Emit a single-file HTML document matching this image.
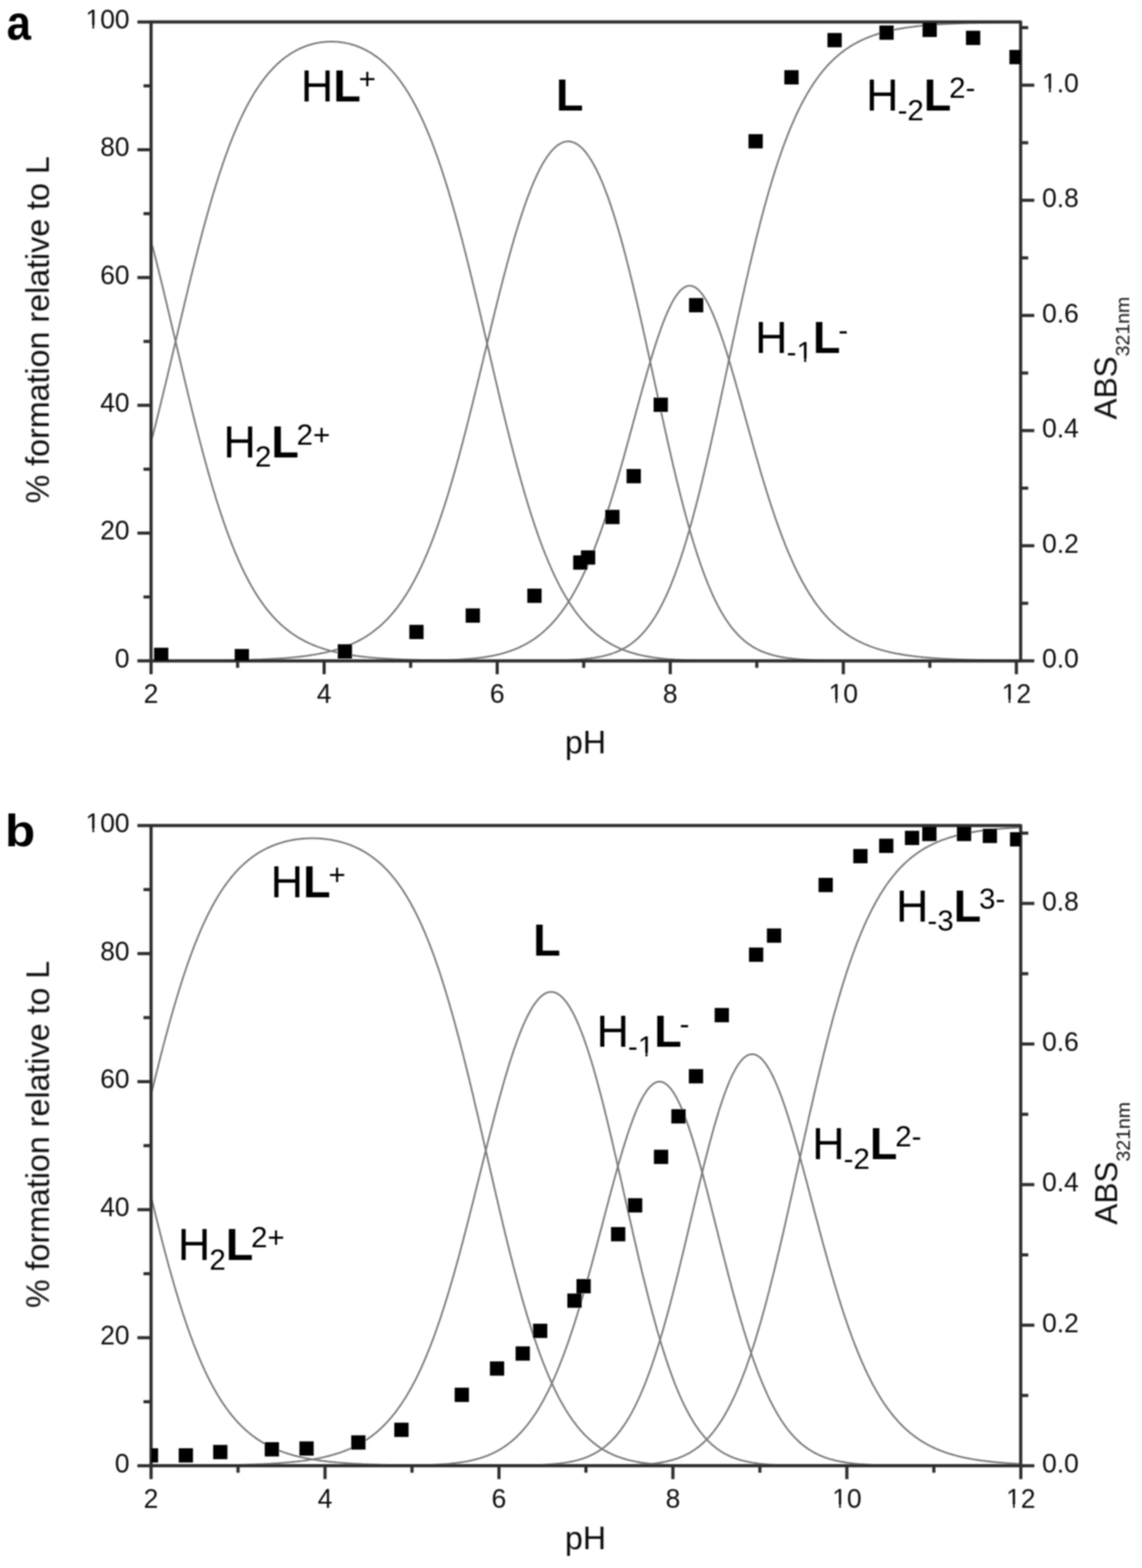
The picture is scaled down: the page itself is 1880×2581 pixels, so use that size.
<!DOCTYPE html>
<html><head><meta charset="utf-8"><style>html,body{margin:0;padding:0;background:#fff;}svg{display:block;}</style></head><body>
<svg width="1880" height="2581" viewBox="0 0 1880 2581" font-family='"Liberation Sans", Arial, sans-serif'>
<rect width="1880" height="2581" fill="#fff"/>
<filter id="soft" x="0" y="0" width="1880" height="2581" filterUnits="userSpaceOnUse"><feGaussianBlur stdDeviation="1.0"/></filter>
<g filter="url(#soft)">
<defs><clipPath id="ca"><rect x="248.7" y="36.2" width="1431.5" height="1051.6"/></clipPath>
<clipPath id="cb"><rect x="248.7" y="1358.9" width="1431.6" height="1053.8"/></clipPath></defs>
<polyline points="250.6,403.7 253.4,414.7 256.3,426.0 259.1,437.3 262.0,448.8 264.8,460.4 267.7,472.1 270.5,483.9 273.4,495.8 276.2,507.8 279.1,519.8 281.9,531.8 284.8,543.9 287.6,556.0 290.5,568.1 293.3,580.2 296.2,592.3 299.0,604.4 301.9,616.4 304.7,628.3 307.6,640.2 310.4,652.0 313.3,663.7 316.1,675.3 319.0,686.8 321.8,698.2 324.7,709.4 327.5,720.5 330.4,731.4 333.2,742.2 336.1,752.8 338.9,763.2 341.8,773.5 344.6,783.5 347.5,793.4 350.3,803.1 353.2,812.5 356.0,821.8 358.9,830.9 361.7,839.7 364.6,848.3 367.4,856.7 370.3,864.9 373.1,872.9 376.0,880.7 378.8,888.3 381.7,895.6 384.5,902.8 387.4,909.7 390.2,916.4 393.0,922.9 395.9,929.2 398.7,935.3 401.6,941.2 404.4,947.0 407.3,952.5 410.1,957.8 413.0,963.0 415.8,968.0 418.7,972.8 421.5,977.4 424.4,981.9 427.2,986.2 430.1,990.4 432.9,994.4 435.8,998.3 438.6,1002.0 441.5,1005.5 444.3,1009.0 447.2,1012.3 450.0,1015.5 452.9,1018.5 455.7,1021.4 458.6,1024.3 461.4,1027.0 464.3,1029.6 467.1,1032.0 470.0,1034.4 472.8,1036.7 475.7,1038.9 478.5,1041.1 481.4,1043.1 484.2,1045.0 487.1,1046.9 489.9,1048.7 492.8,1050.4 495.6,1052.0 498.5,1053.6 501.3,1055.1 504.2,1056.5 507.0,1057.9 509.9,1059.2 512.7,1060.5 515.6,1061.7 518.4,1062.9 521.3,1064.0 524.1,1065.0 527.0,1066.0 529.8,1067.0 532.7,1067.9 535.5,1068.8 538.3,1069.7 541.2,1070.5 544.0,1071.3 546.9,1072.0 549.7,1072.7 552.6,1073.4 555.4,1074.1 558.3,1074.7 561.1,1075.3 564.0,1075.8 566.8,1076.4 569.7,1076.9 572.5,1077.4 575.4,1077.9 578.2,1078.3 581.1,1078.8 583.9,1079.2 586.8,1079.6 589.6,1080.0 592.5,1080.3 595.3,1080.7 598.2,1081.0 601.0,1081.3 603.9,1081.6 606.7,1081.9 609.6,1082.2 612.4,1082.4 615.3,1082.7 618.1,1082.9 621.0,1083.2 623.8,1083.4 626.7,1083.6 629.5,1083.8 632.4,1084.0 635.2,1084.2 638.1,1084.3 640.9,1084.5 643.8,1084.7 646.6,1084.8 649.5,1084.9 652.3,1085.1 655.2,1085.2 658.0,1085.3 660.9,1085.5 663.7,1085.6 666.6,1085.7 669.4,1085.8 672.3,1085.9 675.1,1086.0 677.9,1086.1 680.8,1086.2 683.6,1086.2 686.5,1086.3 689.3,1086.4 692.2,1086.5 695.0,1086.5 697.9,1086.6 700.7,1086.7 703.6,1086.7 706.4,1086.8 709.3,1086.8 712.1,1086.9 715.0,1086.9 717.8,1087.0 720.7,1087.0 723.5,1087.1 726.4,1087.1 729.2,1087.1 732.1,1087.2 734.9,1087.2 737.8,1087.3 740.6,1087.3 743.5,1087.3 746.3,1087.3 749.2,1087.4 752.0,1087.4 754.9,1087.4 757.7,1087.4 760.6,1087.5 763.4,1087.5 766.3,1087.5 769.1,1087.5 772.0,1087.5 774.8,1087.6 777.7,1087.6 780.5,1087.6 783.4,1087.6 786.2,1087.6 789.1,1087.6 791.9,1087.6 794.8,1087.6 797.6,1087.7 800.5,1087.7 803.3,1087.7 806.2,1087.7 809.0,1087.7 811.9,1087.7 814.7,1087.7 817.6,1087.7 820.4,1087.7 823.2,1087.7 826.1,1087.7 828.9,1087.7 831.8,1087.7 834.6,1087.7 837.5,1087.7 840.3,1087.8 843.2,1087.8 846.0,1087.8 848.9,1087.8 851.7,1087.8 854.6,1087.8 857.4,1087.8 860.3,1087.8 863.1,1087.8 866.0,1087.8 868.8,1087.8 871.7,1087.8 874.5,1087.8 877.4,1087.8 880.2,1087.8 883.1,1087.8 885.9,1087.8 888.8,1087.8 891.6,1087.8 894.5,1087.8 897.3,1087.8 900.2,1087.8 903.0,1087.8 905.9,1087.8 908.7,1087.8 911.6,1087.8 914.4,1087.8 917.3,1087.8 920.1,1087.8 923.0,1087.8 925.8,1087.8 928.7,1087.8 931.5,1087.8 934.4,1087.8 937.2,1087.8 940.1,1087.8 942.9,1087.8 945.8,1087.8 948.6,1087.8 951.5,1087.8 954.3,1087.8 957.2,1087.8 960.0,1087.8 962.9,1087.8 965.7,1087.8 968.5,1087.8 971.4,1087.8 974.2,1087.8 977.1,1087.8 979.9,1087.8 982.8,1087.8 985.6,1087.8 988.5,1087.8 991.3,1087.8 994.2,1087.8 997.0,1087.8 999.9,1087.8 1002.7,1087.8 1005.6,1087.8 1008.4,1087.8 1011.3,1087.8 1014.1,1087.8 1017.0,1087.8 1019.8,1087.8 1022.7,1087.8 1025.5,1087.8 1028.4,1087.8 1031.2,1087.8 1034.1,1087.8 1036.9,1087.8 1039.8,1087.8 1042.6,1087.8 1045.5,1087.8 1048.3,1087.8 1051.2,1087.8 1054.0,1087.8 1056.9,1087.8 1059.7,1087.8 1062.6,1087.8 1065.4,1087.8 1068.3,1087.8 1071.1,1087.8 1074.0,1087.8 1076.8,1087.8 1079.7,1087.8 1082.5,1087.8 1085.4,1087.8 1088.2,1087.8 1091.1,1087.8 1093.9,1087.8 1096.8,1087.8 1099.6,1087.8 1102.5,1087.8 1105.3,1087.8 1108.1,1087.8 1111.0,1087.8 1113.8,1087.8 1116.7,1087.8 1119.5,1087.8 1122.4,1087.8 1125.2,1087.8 1128.1,1087.8 1130.9,1087.8 1133.8,1087.8 1136.6,1087.8 1139.5,1087.8 1142.3,1087.8 1145.2,1087.8 1148.0,1087.8 1150.9,1087.8 1153.7,1087.8 1156.6,1087.8 1159.4,1087.8 1162.3,1087.8 1165.1,1087.8 1168.0,1087.8 1170.8,1087.8 1173.7,1087.8 1176.5,1087.8 1179.4,1087.8 1182.2,1087.8 1185.1,1087.8 1187.9,1087.8 1190.8,1087.8 1193.6,1087.8 1196.5,1087.8 1199.3,1087.8 1202.2,1087.8 1205.0,1087.8 1207.9,1087.8 1210.7,1087.8 1213.6,1087.8 1216.4,1087.8 1219.3,1087.8 1222.1,1087.8 1225.0,1087.8 1227.8,1087.8 1230.7,1087.8 1233.5,1087.8 1236.4,1087.8 1239.2,1087.8 1242.1,1087.8 1244.9,1087.8 1247.8,1087.8 1250.6,1087.8 1253.4,1087.8 1256.3,1087.8 1259.1,1087.8 1262.0,1087.8 1264.8,1087.8 1267.7,1087.8 1270.5,1087.8 1273.4,1087.8 1276.2,1087.8 1279.1,1087.8 1281.9,1087.8 1284.8,1087.8 1287.6,1087.8 1290.5,1087.8 1293.3,1087.8 1296.2,1087.8 1299.0,1087.8 1301.9,1087.8 1304.7,1087.8 1307.6,1087.8 1310.4,1087.8 1313.3,1087.8 1316.1,1087.8 1319.0,1087.8 1321.8,1087.8 1324.7,1087.8 1327.5,1087.8 1330.4,1087.8 1333.2,1087.8 1336.1,1087.8 1338.9,1087.8 1341.8,1087.8 1344.6,1087.8 1347.5,1087.8 1350.3,1087.8 1353.2,1087.8 1356.0,1087.8 1358.9,1087.8 1361.7,1087.8 1364.6,1087.8 1367.4,1087.8 1370.3,1087.8 1373.1,1087.8 1376.0,1087.8 1378.8,1087.8 1381.7,1087.8 1384.5,1087.8 1387.4,1087.8 1390.2,1087.8 1393.0,1087.8 1395.9,1087.8 1398.7,1087.8 1401.6,1087.8 1404.4,1087.8 1407.3,1087.8 1410.1,1087.8 1413.0,1087.8 1415.8,1087.8 1418.7,1087.8 1421.5,1087.8 1424.4,1087.8 1427.2,1087.8 1430.1,1087.8 1432.9,1087.8 1435.8,1087.8 1438.6,1087.8 1441.5,1087.8 1444.3,1087.8 1447.2,1087.8 1450.0,1087.8 1452.9,1087.8 1455.7,1087.8 1458.6,1087.8 1461.4,1087.8 1464.3,1087.8 1467.1,1087.8 1470.0,1087.8 1472.8,1087.8 1475.7,1087.8 1478.5,1087.8 1481.4,1087.8 1484.2,1087.8 1487.1,1087.8 1489.9,1087.8 1492.8,1087.8 1495.6,1087.8 1498.5,1087.8 1501.3,1087.8 1504.2,1087.8 1507.0,1087.8 1509.9,1087.8 1512.7,1087.8 1515.6,1087.8 1518.4,1087.8 1521.3,1087.8 1524.1,1087.8 1527.0,1087.8 1529.8,1087.8 1532.7,1087.8 1535.5,1087.8 1538.3,1087.8 1541.2,1087.8 1544.0,1087.8 1546.9,1087.8 1549.7,1087.8 1552.6,1087.8 1555.4,1087.8 1558.3,1087.8 1561.1,1087.8 1564.0,1087.8 1566.8,1087.8 1569.7,1087.8 1572.5,1087.8 1575.4,1087.8 1578.2,1087.8 1581.1,1087.8 1583.9,1087.8 1586.8,1087.8 1589.6,1087.8 1592.5,1087.8 1595.3,1087.8 1598.2,1087.8 1601.0,1087.8 1603.9,1087.8 1606.7,1087.8 1609.6,1087.8 1612.4,1087.8 1615.3,1087.8 1618.1,1087.8 1621.0,1087.8 1623.8,1087.8 1626.7,1087.8 1629.5,1087.8 1632.4,1087.8 1635.2,1087.8 1638.1,1087.8 1640.9,1087.8 1643.8,1087.8 1646.6,1087.8 1649.5,1087.8 1652.3,1087.8 1655.2,1087.8 1658.0,1087.8 1660.9,1087.8 1663.7,1087.8 1666.6,1087.8 1669.4,1087.8 1672.3,1087.8 1675.1,1087.8" fill="none" stroke="#7a7a7a" stroke-width="2.9" stroke-linejoin="round" clip-path="url(#ca)"/>
<polyline points="250.6,720.4 253.4,709.3 256.3,698.1 259.1,686.7 262.0,675.2 264.8,663.6 267.7,651.9 270.5,640.1 273.4,628.3 276.2,616.3 279.1,604.3 281.9,592.3 284.8,580.2 287.6,568.1 290.5,556.0 293.3,543.9 296.2,531.8 299.0,519.8 301.9,507.8 304.7,495.9 307.6,484.0 310.4,472.2 313.3,460.5 316.1,448.9 319.0,437.5 321.8,426.1 324.7,414.9 327.5,403.8 330.4,392.9 333.2,382.2 336.1,371.6 338.9,361.2 341.8,351.0 344.6,340.9 347.5,331.1 350.3,321.4 353.2,312.0 356.0,302.8 358.9,293.8 361.7,285.0 364.6,276.4 367.4,268.0 370.3,259.8 373.1,251.9 376.0,244.2 378.8,236.6 381.7,229.3 384.5,222.3 387.4,215.4 390.2,208.7 393.0,202.3 395.9,196.0 398.7,190.0 401.6,184.2 404.4,178.5 407.3,173.1 410.1,167.8 413.0,162.7 415.8,157.8 418.7,153.1 421.5,148.6 424.4,144.2 427.2,140.0 430.1,135.9 432.9,132.1 435.8,128.3 438.6,124.7 441.5,121.3 444.3,118.0 447.2,114.9 450.0,111.9 452.9,109.0 455.7,106.2 458.6,103.6 461.4,101.1 464.3,98.7 467.1,96.4 470.0,94.2 472.8,92.1 475.7,90.2 478.5,88.3 481.4,86.6 484.2,84.9 487.1,83.3 489.9,81.8 492.8,80.4 495.6,79.1 498.5,77.9 501.3,76.8 504.2,75.7 507.0,74.7 509.9,73.8 512.7,73.0 515.6,72.2 518.4,71.5 521.3,70.9 524.1,70.4 527.0,69.9 529.8,69.5 532.7,69.2 535.5,68.9 538.3,68.7 541.2,68.6 544.0,68.5 546.9,68.5 549.7,68.6 552.6,68.7 555.4,68.9 558.3,69.2 561.1,69.5 564.0,69.9 566.8,70.4 569.7,70.9 572.5,71.6 575.4,72.2 578.2,73.0 581.1,73.8 583.9,74.7 586.8,75.7 589.6,76.8 592.5,77.9 595.3,79.1 598.2,80.5 601.0,81.9 603.9,83.3 606.7,84.9 609.6,86.6 612.4,88.3 615.3,90.2 618.1,92.2 621.0,94.2 623.8,96.4 626.7,98.7 629.5,101.1 632.4,103.6 635.2,106.3 638.1,109.0 640.9,111.9 643.8,114.9 646.6,118.1 649.5,121.4 652.3,124.8 655.2,128.4 658.0,132.2 660.9,136.1 663.7,140.1 666.6,144.3 669.4,148.7 672.3,153.3 675.1,158.0 677.9,162.9 680.8,168.0 683.6,173.3 686.5,178.8 689.3,184.4 692.2,190.3 695.0,196.4 697.9,202.6 700.7,209.1 703.6,215.8 706.4,222.7 709.3,229.8 712.1,237.1 715.0,244.7 717.8,252.5 720.7,260.4 723.5,268.6 726.4,277.1 729.2,285.7 732.1,294.6 734.9,303.7 737.8,312.9 740.6,322.4 743.5,332.2 746.3,342.1 749.2,352.2 752.0,362.5 754.9,373.0 757.7,383.6 760.6,394.5 763.4,405.5 766.3,416.7 769.1,428.0 772.0,439.4 774.8,451.0 777.7,462.7 780.5,474.6 783.4,486.5 786.2,498.5 789.1,510.6 791.9,522.7 794.8,534.9 797.6,547.1 800.5,559.3 803.3,571.6 806.2,583.9 809.0,596.1 811.9,608.3 814.7,620.5 817.6,632.6 820.4,644.6 823.2,656.6 826.1,668.5 828.9,680.3 831.8,691.9 834.6,703.5 837.5,714.9 840.3,726.1 843.2,737.2 846.0,748.2 848.9,759.0 851.7,769.6 854.6,780.0 857.4,790.2 860.3,800.2 863.1,810.1 866.0,819.7 868.8,829.1 871.7,838.3 874.5,847.3 877.4,856.1 880.2,864.7 883.1,873.0 885.9,881.2 888.8,889.1 891.6,896.8 894.5,904.2 897.3,911.5 900.2,918.5 903.0,925.4 905.9,932.0 908.7,938.4 911.6,944.6 914.4,950.6 917.3,956.4 920.1,962.1 923.0,967.5 925.8,972.7 928.7,977.8 931.5,982.6 934.4,987.3 937.2,991.9 940.1,996.2 942.9,1000.4 945.8,1004.5 948.6,1008.4 951.5,1012.1 954.3,1015.7 957.2,1019.1 960.0,1022.4 962.9,1025.6 965.7,1028.7 968.5,1031.6 971.4,1034.4 974.2,1037.1 977.1,1039.7 979.9,1042.1 982.8,1044.5 985.6,1046.7 988.5,1048.9 991.3,1051.0 994.2,1052.9 997.0,1054.8 999.9,1056.6 1002.7,1058.3 1005.6,1060.0 1008.4,1061.5 1011.3,1063.0 1014.1,1064.4 1017.0,1065.8 1019.8,1067.0 1022.7,1068.3 1025.5,1069.4 1028.4,1070.5 1031.2,1071.6 1034.1,1072.6 1036.9,1073.5 1039.8,1074.4 1042.6,1075.2 1045.5,1076.0 1048.3,1076.8 1051.2,1077.5 1054.0,1078.2 1056.9,1078.8 1059.7,1079.4 1062.6,1080.0 1065.4,1080.5 1068.3,1081.0 1071.1,1081.5 1074.0,1081.9 1076.8,1082.4 1079.7,1082.8 1082.5,1083.1 1085.4,1083.5 1088.2,1083.8 1091.1,1084.1 1093.9,1084.4 1096.8,1084.6 1099.6,1084.9 1102.5,1085.1 1105.3,1085.3 1108.1,1085.5 1111.0,1085.7 1113.8,1085.9 1116.7,1086.0 1119.5,1086.2 1122.4,1086.3 1125.2,1086.4 1128.1,1086.6 1130.9,1086.7 1133.8,1086.8 1136.6,1086.9 1139.5,1086.9 1142.3,1087.0 1145.2,1087.1 1148.0,1087.2 1150.9,1087.2 1153.7,1087.3 1156.6,1087.3 1159.4,1087.4 1162.3,1087.4 1165.1,1087.4 1168.0,1087.5 1170.8,1087.5 1173.7,1087.5 1176.5,1087.6 1179.4,1087.6 1182.2,1087.6 1185.1,1087.6 1187.9,1087.6 1190.8,1087.7 1193.6,1087.7 1196.5,1087.7 1199.3,1087.7 1202.2,1087.7 1205.0,1087.7 1207.9,1087.7 1210.7,1087.7 1213.6,1087.7 1216.4,1087.7 1219.3,1087.8 1222.1,1087.8 1225.0,1087.8 1227.8,1087.8 1230.7,1087.8 1233.5,1087.8 1236.4,1087.8 1239.2,1087.8 1242.1,1087.8 1244.9,1087.8 1247.8,1087.8 1250.6,1087.8 1253.4,1087.8 1256.3,1087.8 1259.1,1087.8 1262.0,1087.8 1264.8,1087.8 1267.7,1087.8 1270.5,1087.8 1273.4,1087.8 1276.2,1087.8 1279.1,1087.8 1281.9,1087.8 1284.8,1087.8 1287.6,1087.8 1290.5,1087.8 1293.3,1087.8 1296.2,1087.8 1299.0,1087.8 1301.9,1087.8 1304.7,1087.8 1307.6,1087.8 1310.4,1087.8 1313.3,1087.8 1316.1,1087.8 1319.0,1087.8 1321.8,1087.8 1324.7,1087.8 1327.5,1087.8 1330.4,1087.8 1333.2,1087.8 1336.1,1087.8 1338.9,1087.8 1341.8,1087.8 1344.6,1087.8 1347.5,1087.8 1350.3,1087.8 1353.2,1087.8 1356.0,1087.8 1358.9,1087.8 1361.7,1087.8 1364.6,1087.8 1367.4,1087.8 1370.3,1087.8 1373.1,1087.8 1376.0,1087.8 1378.8,1087.8 1381.7,1087.8 1384.5,1087.8 1387.4,1087.8 1390.2,1087.8 1393.0,1087.8 1395.9,1087.8 1398.7,1087.8 1401.6,1087.8 1404.4,1087.8 1407.3,1087.8 1410.1,1087.8 1413.0,1087.8 1415.8,1087.8 1418.7,1087.8 1421.5,1087.8 1424.4,1087.8 1427.2,1087.8 1430.1,1087.8 1432.9,1087.8 1435.8,1087.8 1438.6,1087.8 1441.5,1087.8 1444.3,1087.8 1447.2,1087.8 1450.0,1087.8 1452.9,1087.8 1455.7,1087.8 1458.6,1087.8 1461.4,1087.8 1464.3,1087.8 1467.1,1087.8 1470.0,1087.8 1472.8,1087.8 1475.7,1087.8 1478.5,1087.8 1481.4,1087.8 1484.2,1087.8 1487.1,1087.8 1489.9,1087.8 1492.8,1087.8 1495.6,1087.8 1498.5,1087.8 1501.3,1087.8 1504.2,1087.8 1507.0,1087.8 1509.9,1087.8 1512.7,1087.8 1515.6,1087.8 1518.4,1087.8 1521.3,1087.8 1524.1,1087.8 1527.0,1087.8 1529.8,1087.8 1532.7,1087.8 1535.5,1087.8 1538.3,1087.8 1541.2,1087.8 1544.0,1087.8 1546.9,1087.8 1549.7,1087.8 1552.6,1087.8 1555.4,1087.8 1558.3,1087.8 1561.1,1087.8 1564.0,1087.8 1566.8,1087.8 1569.7,1087.8 1572.5,1087.8 1575.4,1087.8 1578.2,1087.8 1581.1,1087.8 1583.9,1087.8 1586.8,1087.8 1589.6,1087.8 1592.5,1087.8 1595.3,1087.8 1598.2,1087.8 1601.0,1087.8 1603.9,1087.8 1606.7,1087.8 1609.6,1087.8 1612.4,1087.8 1615.3,1087.8 1618.1,1087.8 1621.0,1087.8 1623.8,1087.8 1626.7,1087.8 1629.5,1087.8 1632.4,1087.8 1635.2,1087.8 1638.1,1087.8 1640.9,1087.8 1643.8,1087.8 1646.6,1087.8 1649.5,1087.8 1652.3,1087.8 1655.2,1087.8 1658.0,1087.8 1660.9,1087.8 1663.7,1087.8 1666.6,1087.8 1669.4,1087.8 1672.3,1087.8 1675.1,1087.8" fill="none" stroke="#7a7a7a" stroke-width="2.9" stroke-linejoin="round" clip-path="url(#ca)"/>
<polyline points="250.6,1087.8 253.4,1087.7 256.3,1087.7 259.1,1087.7 262.0,1087.7 264.8,1087.7 267.7,1087.7 270.5,1087.7 273.4,1087.7 276.2,1087.7 279.1,1087.7 281.9,1087.7 284.8,1087.7 287.6,1087.7 290.5,1087.7 293.3,1087.7 296.2,1087.6 299.0,1087.6 301.9,1087.6 304.7,1087.6 307.6,1087.6 310.4,1087.6 313.3,1087.6 316.1,1087.6 319.0,1087.5 321.8,1087.5 324.7,1087.5 327.5,1087.5 330.4,1087.5 333.2,1087.4 336.1,1087.4 338.9,1087.4 341.8,1087.4 344.6,1087.3 347.5,1087.3 350.3,1087.3 353.2,1087.3 356.0,1087.2 358.9,1087.2 361.7,1087.1 364.6,1087.1 367.4,1087.1 370.3,1087.0 373.1,1087.0 376.0,1086.9 378.8,1086.9 381.7,1086.8 384.5,1086.8 387.4,1086.7 390.2,1086.7 393.0,1086.6 395.9,1086.5 398.7,1086.5 401.6,1086.4 404.4,1086.3 407.3,1086.2 410.1,1086.2 413.0,1086.1 415.8,1086.0 418.7,1085.9 421.5,1085.8 424.4,1085.7 427.2,1085.6 430.1,1085.5 432.9,1085.3 435.8,1085.2 438.6,1085.1 441.5,1084.9 444.3,1084.8 447.2,1084.7 450.0,1084.5 452.9,1084.3 455.7,1084.2 458.6,1084.0 461.4,1083.8 464.3,1083.6 467.1,1083.4 470.0,1083.2 472.8,1082.9 475.7,1082.7 478.5,1082.4 481.4,1082.2 484.2,1081.9 487.1,1081.6 489.9,1081.3 492.8,1081.0 495.6,1080.7 498.5,1080.3 501.3,1080.0 504.2,1079.6 507.0,1079.2 509.9,1078.8 512.7,1078.3 515.6,1077.9 518.4,1077.4 521.3,1076.9 524.1,1076.4 527.0,1075.8 529.8,1075.3 532.7,1074.7 535.5,1074.1 538.3,1073.4 541.2,1072.7 544.0,1072.0 546.9,1071.3 549.7,1070.5 552.6,1069.7 555.4,1068.8 558.3,1067.9 561.1,1067.0 564.0,1066.0 566.8,1065.0 569.7,1064.0 572.5,1062.9 575.4,1061.7 578.2,1060.5 581.1,1059.2 583.9,1057.9 586.8,1056.5 589.6,1055.1 592.5,1053.6 595.3,1052.0 598.2,1050.4 601.0,1048.7 603.9,1046.9 606.7,1045.0 609.6,1043.1 612.4,1041.1 615.3,1038.9 618.1,1036.7 621.0,1034.4 623.8,1032.1 626.7,1029.6 629.5,1027.0 632.4,1024.3 635.2,1021.4 638.1,1018.5 640.9,1015.5 643.8,1012.3 646.6,1009.0 649.5,1005.5 652.3,1002.0 655.2,998.3 658.0,994.4 660.9,990.4 663.7,986.3 666.6,981.9 669.4,977.5 672.3,972.8 675.1,968.0 677.9,963.0 680.8,957.9 683.6,952.5 686.5,947.0 689.3,941.3 692.2,935.4 695.0,929.3 697.9,923.0 700.7,916.5 703.6,909.8 706.4,902.8 709.3,895.7 712.1,888.4 715.0,880.8 717.8,873.1 720.7,865.1 723.5,856.9 726.4,848.5 729.2,839.9 732.1,831.1 734.9,822.1 737.8,812.9 740.6,803.4 743.5,793.8 746.3,784.0 749.2,774.0 752.0,763.8 754.9,753.5 757.7,742.9 760.6,732.2 763.4,721.4 766.3,710.4 769.1,699.3 772.0,688.0 774.8,676.7 777.7,665.2 780.5,653.7 783.4,642.0 786.2,630.3 789.1,618.6 791.9,606.8 794.8,595.0 797.6,583.2 800.5,571.4 803.3,559.6 806.2,547.8 809.0,536.1 811.9,524.4 814.7,512.9 817.6,501.4 820.4,490.0 823.2,478.7 826.1,467.6 828.9,456.6 831.8,445.8 834.6,435.1 837.5,424.6 840.3,414.3 843.2,404.2 846.0,394.4 848.9,384.7 851.7,375.3 854.6,366.2 857.4,357.3 860.3,348.7 863.1,340.3 866.0,332.2 868.8,324.4 871.7,316.9 874.5,309.7 877.4,302.8 880.2,296.1 883.1,289.9 885.9,283.9 888.8,278.2 891.6,272.9 894.5,267.8 897.3,263.2 900.2,258.8 903.0,254.8 905.9,251.1 908.7,247.7 911.6,244.7 914.4,242.0 917.3,239.7 920.1,237.7 923.0,236.0 925.8,234.7 928.7,233.7 931.5,233.1 934.4,232.8 937.2,232.8 940.1,233.3 942.9,234.0 945.8,235.1 948.6,236.6 951.5,238.3 954.3,240.5 957.2,243.0 960.0,245.8 962.9,249.0 965.7,252.6 968.5,256.5 971.4,260.7 974.2,265.3 977.1,270.2 979.9,275.5 982.8,281.1 985.6,287.1 988.5,293.4 991.3,300.0 994.2,307.0 997.0,314.4 999.9,322.0 1002.7,330.0 1005.6,338.3 1008.4,346.9 1011.3,355.8 1014.1,365.1 1017.0,374.6 1019.8,384.4 1022.7,394.5 1025.5,404.9 1028.4,415.6 1031.2,426.5 1034.1,437.6 1036.9,449.0 1039.8,460.6 1042.6,472.4 1045.5,484.4 1048.3,496.6 1051.2,508.9 1054.0,521.4 1056.9,534.1 1059.7,546.8 1062.6,559.7 1065.4,572.7 1068.3,585.7 1071.1,598.8 1074.0,611.9 1076.8,625.0 1079.7,638.1 1082.5,651.2 1085.4,664.3 1088.2,677.4 1091.1,690.3 1093.9,703.2 1096.8,715.9 1099.6,728.6 1102.5,741.1 1105.3,753.5 1108.1,765.7 1111.0,777.7 1113.8,789.6 1116.7,801.2 1119.5,812.6 1122.4,823.8 1125.2,834.8 1128.1,845.5 1130.9,856.0 1133.8,866.2 1136.6,876.2 1139.5,885.9 1142.3,895.3 1145.2,904.4 1148.0,913.3 1150.9,921.8 1153.7,930.1 1156.6,938.1 1159.4,945.8 1162.3,953.3 1165.1,960.4 1168.0,967.3 1170.8,973.9 1173.7,980.3 1176.5,986.3 1179.4,992.1 1182.2,997.7 1185.1,1003.0 1187.9,1008.0 1190.8,1012.8 1193.6,1017.4 1196.5,1021.7 1199.3,1025.9 1202.2,1029.8 1205.0,1033.5 1207.9,1037.0 1210.7,1040.3 1213.6,1043.4 1216.4,1046.4 1219.3,1049.2 1222.1,1051.8 1225.0,1054.3 1227.8,1056.6 1230.7,1058.8 1233.5,1060.8 1236.4,1062.7 1239.2,1064.5 1242.1,1066.2 1244.9,1067.8 1247.8,1069.2 1250.6,1070.6 1253.4,1071.9 1256.3,1073.1 1259.1,1074.2 1262.0,1075.2 1264.8,1076.1 1267.7,1077.0 1270.5,1077.9 1273.4,1078.6 1276.2,1079.3 1279.1,1080.0 1281.9,1080.6 1284.8,1081.2 1287.6,1081.7 1290.5,1082.2 1293.3,1082.6 1296.2,1083.1 1299.0,1083.4 1301.9,1083.8 1304.7,1084.1 1307.6,1084.4 1310.4,1084.7 1313.3,1084.9 1316.1,1085.2 1319.0,1085.4 1321.8,1085.6 1324.7,1085.8 1327.5,1085.9 1330.4,1086.1 1333.2,1086.2 1336.1,1086.4 1338.9,1086.5 1341.8,1086.6 1344.6,1086.7 1347.5,1086.8 1350.3,1086.9 1353.2,1087.0 1356.0,1087.0 1358.9,1087.1 1361.7,1087.2 1364.6,1087.2 1367.4,1087.3 1370.3,1087.3 1373.1,1087.3 1376.0,1087.4 1378.8,1087.4 1381.7,1087.5 1384.5,1087.5 1387.4,1087.5 1390.2,1087.5 1393.0,1087.6 1395.9,1087.6 1398.7,1087.6 1401.6,1087.6 1404.4,1087.6 1407.3,1087.6 1410.1,1087.7 1413.0,1087.7 1415.8,1087.7 1418.7,1087.7 1421.5,1087.7 1424.4,1087.7 1427.2,1087.7 1430.1,1087.7 1432.9,1087.7 1435.8,1087.7 1438.6,1087.7 1441.5,1087.7 1444.3,1087.8 1447.2,1087.8 1450.0,1087.8 1452.9,1087.8 1455.7,1087.8 1458.6,1087.8 1461.4,1087.8 1464.3,1087.8 1467.1,1087.8 1470.0,1087.8 1472.8,1087.8 1475.7,1087.8 1478.5,1087.8 1481.4,1087.8 1484.2,1087.8 1487.1,1087.8 1489.9,1087.8 1492.8,1087.8 1495.6,1087.8 1498.5,1087.8 1501.3,1087.8 1504.2,1087.8 1507.0,1087.8 1509.9,1087.8 1512.7,1087.8 1515.6,1087.8 1518.4,1087.8 1521.3,1087.8 1524.1,1087.8 1527.0,1087.8 1529.8,1087.8 1532.7,1087.8 1535.5,1087.8 1538.3,1087.8 1541.2,1087.8 1544.0,1087.8 1546.9,1087.8 1549.7,1087.8 1552.6,1087.8 1555.4,1087.8 1558.3,1087.8 1561.1,1087.8 1564.0,1087.8 1566.8,1087.8 1569.7,1087.8 1572.5,1087.8 1575.4,1087.8 1578.2,1087.8 1581.1,1087.8 1583.9,1087.8 1586.8,1087.8 1589.6,1087.8 1592.5,1087.8 1595.3,1087.8 1598.2,1087.8 1601.0,1087.8 1603.9,1087.8 1606.7,1087.8 1609.6,1087.8 1612.4,1087.8 1615.3,1087.8 1618.1,1087.8 1621.0,1087.8 1623.8,1087.8 1626.7,1087.8 1629.5,1087.8 1632.4,1087.8 1635.2,1087.8 1638.1,1087.8 1640.9,1087.8 1643.8,1087.8 1646.6,1087.8 1649.5,1087.8 1652.3,1087.8 1655.2,1087.8 1658.0,1087.8 1660.9,1087.8 1663.7,1087.8 1666.6,1087.8 1669.4,1087.8 1672.3,1087.8 1675.1,1087.8" fill="none" stroke="#7a7a7a" stroke-width="2.9" stroke-linejoin="round" clip-path="url(#ca)"/>
<polyline points="250.6,1087.8 253.4,1087.8 256.3,1087.8 259.1,1087.8 262.0,1087.8 264.8,1087.8 267.7,1087.8 270.5,1087.8 273.4,1087.8 276.2,1087.8 279.1,1087.8 281.9,1087.8 284.8,1087.8 287.6,1087.8 290.5,1087.8 293.3,1087.8 296.2,1087.8 299.0,1087.8 301.9,1087.8 304.7,1087.8 307.6,1087.8 310.4,1087.8 313.3,1087.8 316.1,1087.8 319.0,1087.8 321.8,1087.8 324.7,1087.8 327.5,1087.8 330.4,1087.8 333.2,1087.8 336.1,1087.8 338.9,1087.8 341.8,1087.8 344.6,1087.8 347.5,1087.8 350.3,1087.8 353.2,1087.8 356.0,1087.8 358.9,1087.8 361.7,1087.8 364.6,1087.8 367.4,1087.8 370.3,1087.8 373.1,1087.8 376.0,1087.8 378.8,1087.8 381.7,1087.8 384.5,1087.8 387.4,1087.8 390.2,1087.8 393.0,1087.8 395.9,1087.8 398.7,1087.8 401.6,1087.8 404.4,1087.8 407.3,1087.8 410.1,1087.8 413.0,1087.8 415.8,1087.8 418.7,1087.8 421.5,1087.8 424.4,1087.8 427.2,1087.8 430.1,1087.8 432.9,1087.8 435.8,1087.8 438.6,1087.8 441.5,1087.8 444.3,1087.8 447.2,1087.8 450.0,1087.8 452.9,1087.8 455.7,1087.8 458.6,1087.8 461.4,1087.8 464.3,1087.8 467.1,1087.8 470.0,1087.8 472.8,1087.8 475.7,1087.8 478.5,1087.8 481.4,1087.8 484.2,1087.8 487.1,1087.8 489.9,1087.8 492.8,1087.8 495.6,1087.8 498.5,1087.8 501.3,1087.8 504.2,1087.8 507.0,1087.8 509.9,1087.8 512.7,1087.8 515.6,1087.8 518.4,1087.8 521.3,1087.8 524.1,1087.8 527.0,1087.8 529.8,1087.8 532.7,1087.8 535.5,1087.8 538.3,1087.8 541.2,1087.8 544.0,1087.8 546.9,1087.8 549.7,1087.8 552.6,1087.8 555.4,1087.8 558.3,1087.8 561.1,1087.8 564.0,1087.8 566.8,1087.8 569.7,1087.8 572.5,1087.8 575.4,1087.8 578.2,1087.8 581.1,1087.8 583.9,1087.8 586.8,1087.8 589.6,1087.8 592.5,1087.8 595.3,1087.8 598.2,1087.8 601.0,1087.8 603.9,1087.8 606.7,1087.8 609.6,1087.8 612.4,1087.8 615.3,1087.8 618.1,1087.8 621.0,1087.8 623.8,1087.8 626.7,1087.8 629.5,1087.8 632.4,1087.7 635.2,1087.7 638.1,1087.7 640.9,1087.7 643.8,1087.7 646.6,1087.7 649.5,1087.7 652.3,1087.7 655.2,1087.7 658.0,1087.7 660.9,1087.7 663.7,1087.7 666.6,1087.6 669.4,1087.6 672.3,1087.6 675.1,1087.6 677.9,1087.6 680.8,1087.6 683.6,1087.5 686.5,1087.5 689.3,1087.5 692.2,1087.5 695.0,1087.4 697.9,1087.4 700.7,1087.4 703.6,1087.3 706.4,1087.3 709.3,1087.2 712.1,1087.2 715.0,1087.1 717.8,1087.1 720.7,1087.0 723.5,1087.0 726.4,1086.9 729.2,1086.8 732.1,1086.7 734.9,1086.6 737.8,1086.5 740.6,1086.4 743.5,1086.3 746.3,1086.2 749.2,1086.1 752.0,1085.9 754.9,1085.8 757.7,1085.6 760.6,1085.4 763.4,1085.2 766.3,1085.0 769.1,1084.8 772.0,1084.6 774.8,1084.3 777.7,1084.1 780.5,1083.8 783.4,1083.5 786.2,1083.2 789.1,1082.8 791.9,1082.5 794.8,1082.1 797.6,1081.7 800.5,1081.2 803.3,1080.8 806.2,1080.3 809.0,1079.7 811.9,1079.2 814.7,1078.6 817.6,1078.0 820.4,1077.3 823.2,1076.6 826.1,1075.8 828.9,1075.1 831.8,1074.2 834.6,1073.4 837.5,1072.4 840.3,1071.5 843.2,1070.4 846.0,1069.3 848.9,1068.2 851.7,1067.0 854.6,1065.8 857.4,1064.4 860.3,1063.0 863.1,1061.6 866.0,1060.0 868.8,1058.4 871.7,1056.8 874.5,1055.0 877.4,1053.1 880.2,1051.2 883.1,1049.2 885.9,1047.0 888.8,1044.8 891.6,1042.5 894.5,1040.1 897.3,1037.5 900.2,1034.9 903.0,1032.1 905.9,1029.2 908.7,1026.2 911.6,1023.1 914.4,1019.8 917.3,1016.4 920.1,1012.9 923.0,1009.2 925.8,1005.4 928.7,1001.4 931.5,997.3 934.4,993.0 937.2,988.5 940.1,983.9 942.9,979.1 945.8,974.1 948.6,968.9 951.5,963.6 954.3,958.1 957.2,952.4 960.0,946.4 962.9,940.3 965.7,934.1 968.5,927.6 971.4,920.9 974.2,914.0 977.1,906.9 979.9,899.6 982.8,892.0 985.6,884.3 988.5,876.4 991.3,868.3 994.2,860.0 997.0,851.5 999.9,842.8 1002.7,834.0 1005.6,824.9 1008.4,815.7 1011.3,806.3 1014.1,796.7 1017.0,787.0 1019.8,777.2 1022.7,767.2 1025.5,757.2 1028.4,747.0 1031.2,736.7 1034.1,726.4 1036.9,715.9 1039.8,705.5 1042.6,695.0 1045.5,684.5 1048.3,674.0 1051.2,663.6 1054.0,653.2 1056.9,642.9 1059.7,632.6 1062.6,622.5 1065.4,612.6 1068.3,602.7 1071.1,593.1 1074.0,583.7 1076.8,574.5 1079.7,565.5 1082.5,556.9 1085.4,548.5 1088.2,540.5 1091.1,532.8 1093.9,525.4 1096.8,518.5 1099.6,511.9 1102.5,505.8 1105.3,500.1 1108.1,494.9 1111.0,490.1 1113.8,485.8 1116.7,482.1 1119.5,478.8 1122.4,476.1 1125.2,473.9 1128.1,472.2 1130.9,471.0 1133.8,470.4 1136.6,470.4 1139.5,470.9 1142.3,471.9 1145.2,473.5 1148.0,475.6 1150.9,478.2 1153.7,481.4 1156.6,485.0 1159.4,489.2 1162.3,493.8 1165.1,498.9 1168.0,504.5 1170.8,510.5 1173.7,516.9 1176.5,523.7 1179.4,530.9 1182.2,538.5 1185.1,546.4 1187.9,554.6 1190.8,563.1 1193.6,571.9 1196.5,580.9 1199.3,590.2 1202.2,599.6 1205.0,609.3 1207.9,619.1 1210.7,629.0 1213.6,639.1 1216.4,649.2 1219.3,659.4 1222.1,669.7 1225.0,680.0 1227.8,690.3 1230.7,700.6 1233.5,710.8 1236.4,721.0 1239.2,731.2 1242.1,741.3 1244.9,751.3 1247.8,761.2 1250.6,771.0 1253.4,780.6 1256.3,790.1 1259.1,799.5 1262.0,808.7 1264.8,817.8 1267.7,826.6 1270.5,835.3 1273.4,843.9 1276.2,852.2 1279.1,860.4 1281.9,868.3 1284.8,876.1 1287.6,883.6 1290.5,891.0 1293.3,898.2 1296.2,905.2 1299.0,911.9 1301.9,918.5 1304.7,924.9 1307.6,931.1 1310.4,937.1 1313.3,942.9 1316.1,948.5 1319.0,954.0 1321.8,959.2 1324.7,964.3 1327.5,969.2 1330.4,974.0 1333.2,978.5 1336.1,982.9 1338.9,987.2 1341.8,991.3 1344.6,995.3 1347.5,999.1 1350.3,1002.7 1353.2,1006.3 1356.0,1009.6 1358.9,1012.9 1361.7,1016.0 1364.6,1019.1 1367.4,1022.0 1370.3,1024.7 1373.1,1027.4 1376.0,1030.0 1378.8,1032.4 1381.7,1034.8 1384.5,1037.1 1387.4,1039.2 1390.2,1041.3 1393.0,1043.3 1395.9,1045.3 1398.7,1047.1 1401.6,1048.9 1404.4,1050.6 1407.3,1052.2 1410.1,1053.7 1413.0,1055.2 1415.8,1056.6 1418.7,1058.0 1421.5,1059.3 1424.4,1060.5 1427.2,1061.7 1430.1,1062.9 1432.9,1064.0 1435.8,1065.0 1438.6,1066.0 1441.5,1067.0 1444.3,1067.9 1447.2,1068.8 1450.0,1069.6 1452.9,1070.4 1455.7,1071.2 1458.6,1071.9 1461.4,1072.6 1464.3,1073.3 1467.1,1074.0 1470.0,1074.6 1472.8,1075.2 1475.7,1075.7 1478.5,1076.3 1481.4,1076.8 1484.2,1077.3 1487.1,1077.7 1489.9,1078.2 1492.8,1078.6 1495.6,1079.0 1498.5,1079.4 1501.3,1079.8 1504.2,1080.1 1507.0,1080.5 1509.9,1080.8 1512.7,1081.1 1515.6,1081.4 1518.4,1081.7 1521.3,1082.0 1524.1,1082.2 1527.0,1082.5 1529.8,1082.7 1532.7,1083.0 1535.5,1083.2 1538.3,1083.4 1541.2,1083.6 1544.0,1083.8 1546.9,1084.0 1549.7,1084.1 1552.6,1084.3 1555.4,1084.4 1558.3,1084.6 1561.1,1084.7 1564.0,1084.9 1566.8,1085.0 1569.7,1085.1 1572.5,1085.3 1575.4,1085.4 1578.2,1085.5 1581.1,1085.6 1583.9,1085.7 1586.8,1085.8 1589.6,1085.9 1592.5,1086.0 1595.3,1086.0 1598.2,1086.1 1601.0,1086.2 1603.9,1086.3 1606.7,1086.3 1609.6,1086.4 1612.4,1086.5 1615.3,1086.5 1618.1,1086.6 1621.0,1086.6 1623.8,1086.7 1626.7,1086.7 1629.5,1086.8 1632.4,1086.8 1635.2,1086.9 1638.1,1086.9 1640.9,1087.0 1643.8,1087.0 1646.6,1087.0 1649.5,1087.1 1652.3,1087.1 1655.2,1087.1 1658.0,1087.2 1660.9,1087.2 1663.7,1087.2 1666.6,1087.2 1669.4,1087.3 1672.3,1087.3 1675.1,1087.3" fill="none" stroke="#7a7a7a" stroke-width="2.9" stroke-linejoin="round" clip-path="url(#ca)"/>
<polyline points="250.6,1087.8 253.4,1087.8 256.3,1087.8 259.1,1087.8 262.0,1087.8 264.8,1087.8 267.7,1087.8 270.5,1087.8 273.4,1087.8 276.2,1087.8 279.1,1087.8 281.9,1087.8 284.8,1087.8 287.6,1087.8 290.5,1087.8 293.3,1087.8 296.2,1087.8 299.0,1087.8 301.9,1087.8 304.7,1087.8 307.6,1087.8 310.4,1087.8 313.3,1087.8 316.1,1087.8 319.0,1087.8 321.8,1087.8 324.7,1087.8 327.5,1087.8 330.4,1087.8 333.2,1087.8 336.1,1087.8 338.9,1087.8 341.8,1087.8 344.6,1087.8 347.5,1087.8 350.3,1087.8 353.2,1087.8 356.0,1087.8 358.9,1087.8 361.7,1087.8 364.6,1087.8 367.4,1087.8 370.3,1087.8 373.1,1087.8 376.0,1087.8 378.8,1087.8 381.7,1087.8 384.5,1087.8 387.4,1087.8 390.2,1087.8 393.0,1087.8 395.9,1087.8 398.7,1087.8 401.6,1087.8 404.4,1087.8 407.3,1087.8 410.1,1087.8 413.0,1087.8 415.8,1087.8 418.7,1087.8 421.5,1087.8 424.4,1087.8 427.2,1087.8 430.1,1087.8 432.9,1087.8 435.8,1087.8 438.6,1087.8 441.5,1087.8 444.3,1087.8 447.2,1087.8 450.0,1087.8 452.9,1087.8 455.7,1087.8 458.6,1087.8 461.4,1087.8 464.3,1087.8 467.1,1087.8 470.0,1087.8 472.8,1087.8 475.7,1087.8 478.5,1087.8 481.4,1087.8 484.2,1087.8 487.1,1087.8 489.9,1087.8 492.8,1087.8 495.6,1087.8 498.5,1087.8 501.3,1087.8 504.2,1087.8 507.0,1087.8 509.9,1087.8 512.7,1087.8 515.6,1087.8 518.4,1087.8 521.3,1087.8 524.1,1087.8 527.0,1087.8 529.8,1087.8 532.7,1087.8 535.5,1087.8 538.3,1087.8 541.2,1087.8 544.0,1087.8 546.9,1087.8 549.7,1087.8 552.6,1087.8 555.4,1087.8 558.3,1087.8 561.1,1087.8 564.0,1087.8 566.8,1087.8 569.7,1087.8 572.5,1087.8 575.4,1087.8 578.2,1087.8 581.1,1087.8 583.9,1087.8 586.8,1087.8 589.6,1087.8 592.5,1087.8 595.3,1087.8 598.2,1087.8 601.0,1087.8 603.9,1087.8 606.7,1087.8 609.6,1087.8 612.4,1087.8 615.3,1087.8 618.1,1087.8 621.0,1087.8 623.8,1087.8 626.7,1087.8 629.5,1087.8 632.4,1087.8 635.2,1087.8 638.1,1087.8 640.9,1087.8 643.8,1087.8 646.6,1087.8 649.5,1087.8 652.3,1087.8 655.2,1087.8 658.0,1087.8 660.9,1087.8 663.7,1087.8 666.6,1087.8 669.4,1087.8 672.3,1087.8 675.1,1087.8 677.9,1087.8 680.8,1087.8 683.6,1087.8 686.5,1087.8 689.3,1087.8 692.2,1087.8 695.0,1087.8 697.9,1087.8 700.7,1087.8 703.6,1087.8 706.4,1087.8 709.3,1087.8 712.1,1087.8 715.0,1087.8 717.8,1087.8 720.7,1087.8 723.5,1087.8 726.4,1087.8 729.2,1087.8 732.1,1087.8 734.9,1087.8 737.8,1087.8 740.6,1087.8 743.5,1087.8 746.3,1087.8 749.2,1087.8 752.0,1087.8 754.9,1087.8 757.7,1087.8 760.6,1087.8 763.4,1087.8 766.3,1087.8 769.1,1087.8 772.0,1087.8 774.8,1087.8 777.7,1087.8 780.5,1087.8 783.4,1087.8 786.2,1087.8 789.1,1087.8 791.9,1087.8 794.8,1087.8 797.6,1087.8 800.5,1087.8 803.3,1087.8 806.2,1087.8 809.0,1087.8 811.9,1087.8 814.7,1087.8 817.6,1087.8 820.4,1087.8 823.2,1087.8 826.1,1087.8 828.9,1087.8 831.8,1087.8 834.6,1087.8 837.5,1087.8 840.3,1087.8 843.2,1087.7 846.0,1087.7 848.9,1087.7 851.7,1087.7 854.6,1087.7 857.4,1087.7 860.3,1087.7 863.1,1087.7 866.0,1087.7 868.8,1087.7 871.7,1087.6 874.5,1087.6 877.4,1087.6 880.2,1087.6 883.1,1087.6 885.9,1087.5 888.8,1087.5 891.6,1087.5 894.5,1087.5 897.3,1087.4 900.2,1087.4 903.0,1087.3 905.9,1087.3 908.7,1087.2 911.6,1087.2 914.4,1087.1 917.3,1087.1 920.1,1087.0 923.0,1086.9 925.8,1086.8 928.7,1086.7 931.5,1086.6 934.4,1086.5 937.2,1086.4 940.1,1086.2 942.9,1086.1 945.8,1085.9 948.6,1085.8 951.5,1085.6 954.3,1085.4 957.2,1085.1 960.0,1084.9 962.9,1084.6 965.7,1084.3 968.5,1084.0 971.4,1083.7 974.2,1083.3 977.1,1082.9 979.9,1082.4 982.8,1082.0 985.6,1081.4 988.5,1080.9 991.3,1080.3 994.2,1079.6 997.0,1078.9 999.9,1078.2 1002.7,1077.3 1005.6,1076.5 1008.4,1075.5 1011.3,1074.5 1014.1,1073.4 1017.0,1072.2 1019.8,1070.9 1022.7,1069.6 1025.5,1068.1 1028.4,1066.5 1031.2,1064.9 1034.1,1063.1 1036.9,1061.2 1039.8,1059.1 1042.6,1057.0 1045.5,1054.6 1048.3,1052.2 1051.2,1049.6 1054.0,1046.8 1056.9,1043.8 1059.7,1040.7 1062.6,1037.4 1065.4,1033.9 1068.3,1030.1 1071.1,1026.2 1074.0,1022.1 1076.8,1017.8 1079.7,1013.2 1082.5,1008.4 1085.4,1003.3 1088.2,998.0 1091.1,992.4 1093.9,986.6 1096.8,980.6 1099.6,974.2 1102.5,967.6 1105.3,960.7 1108.1,953.5 1111.0,946.1 1113.8,938.3 1116.7,930.3 1119.5,922.0 1122.4,913.4 1125.2,904.5 1128.1,895.4 1130.9,885.9 1133.8,876.2 1136.6,866.2 1139.5,855.9 1142.3,845.4 1145.2,834.6 1148.0,823.6 1150.9,812.4 1153.7,800.9 1156.6,789.1 1159.4,777.2 1162.3,765.1 1165.1,752.8 1168.0,740.3 1170.8,727.7 1173.7,714.9 1176.5,702.0 1179.4,689.0 1182.2,675.9 1185.1,662.6 1187.9,649.4 1190.8,636.0 1193.6,622.7 1196.5,609.3 1199.3,595.9 1202.2,582.5 1205.0,569.1 1207.9,555.8 1210.7,542.5 1213.6,529.3 1216.4,516.2 1219.3,503.2 1222.1,490.4 1225.0,477.6 1227.8,465.0 1230.7,452.5 1233.5,440.2 1236.4,428.1 1239.2,416.1 1242.1,404.3 1244.9,392.8 1247.8,381.4 1250.6,370.3 1253.4,359.3 1256.3,348.6 1259.1,338.2 1262.0,327.9 1264.8,317.9 1267.7,308.1 1270.5,298.6 1273.4,289.3 1276.2,280.3 1279.1,271.4 1281.9,262.9 1284.8,254.5 1287.6,246.5 1290.5,238.6 1293.3,231.0 1296.2,223.6 1299.0,216.4 1301.9,209.5 1304.7,202.8 1307.6,196.3 1310.4,190.0 1313.3,184.0 1316.1,178.1 1319.0,172.4 1321.8,167.0 1324.7,161.7 1327.5,156.6 1330.4,151.7 1333.2,147.0 1336.1,142.5 1338.9,138.1 1341.8,133.9 1344.6,129.8 1347.5,125.9 1350.3,122.2 1353.2,118.6 1356.0,115.1 1358.9,111.8 1361.7,108.6 1364.6,105.5 1367.4,102.6 1370.3,99.8 1373.1,97.0 1376.0,94.4 1378.8,91.9 1381.7,89.5 1384.5,87.2 1387.4,85.0 1390.2,82.9 1393.0,80.9 1395.9,79.0 1398.7,77.1 1401.6,75.3 1404.4,73.6 1407.3,72.0 1410.1,70.4 1413.0,68.9 1415.8,67.5 1418.7,66.1 1421.5,64.8 1424.4,63.5 1427.2,62.3 1430.1,61.2 1432.9,60.1 1435.8,59.0 1438.6,58.0 1441.5,57.1 1444.3,56.1 1447.2,55.2 1450.0,54.4 1452.9,53.6 1455.7,52.8 1458.6,52.1 1461.4,51.4 1464.3,50.7 1467.1,50.1 1470.0,49.4 1472.8,48.9 1475.7,48.3 1478.5,47.8 1481.4,47.2 1484.2,46.7 1487.1,46.3 1489.9,45.8 1492.8,45.4 1495.6,45.0 1498.5,44.6 1501.3,44.2 1504.2,43.9 1507.0,43.5 1509.9,43.2 1512.7,42.9 1515.6,42.6 1518.4,42.3 1521.3,42.0 1524.1,41.8 1527.0,41.5 1529.8,41.3 1532.7,41.0 1535.5,40.8 1538.3,40.6 1541.2,40.4 1544.0,40.2 1546.9,40.0 1549.7,39.9 1552.6,39.7 1555.4,39.6 1558.3,39.4 1561.1,39.3 1564.0,39.1 1566.8,39.0 1569.7,38.9 1572.5,38.7 1575.4,38.6 1578.2,38.5 1581.1,38.4 1583.9,38.3 1586.8,38.2 1589.6,38.1 1592.5,38.0 1595.3,38.0 1598.2,37.9 1601.0,37.8 1603.9,37.7 1606.7,37.7 1609.6,37.6 1612.4,37.5 1615.3,37.5 1618.1,37.4 1621.0,37.4 1623.8,37.3 1626.7,37.3 1629.5,37.2 1632.4,37.2 1635.2,37.1 1638.1,37.1 1640.9,37.0 1643.8,37.0 1646.6,37.0 1649.5,36.9 1652.3,36.9 1655.2,36.9 1658.0,36.8 1660.9,36.8 1663.7,36.8 1666.6,36.8 1669.4,36.7 1672.3,36.7 1675.1,36.7" fill="none" stroke="#7a7a7a" stroke-width="2.9" stroke-linejoin="round" clip-path="url(#ca)"/>
<g stroke="#2e2e2e" stroke-width="5.2" stroke-linecap="butt"><path d="M248.7 36.2 H1680.2 V1087.8 H248.7 Z" fill="none" stroke="#2e2e2e" stroke-width="5.2" stroke-linejoin="round"/><line x1="226.2" y1="1087.80" x2="248.7" y2="1087.80"/><line x1="236.2" y1="982.64" x2="248.7" y2="982.64"/><line x1="226.2" y1="877.48" x2="248.7" y2="877.48"/><line x1="236.2" y1="772.32" x2="248.7" y2="772.32"/><line x1="226.2" y1="667.16" x2="248.7" y2="667.16"/><line x1="236.2" y1="562.00" x2="248.7" y2="562.00"/><line x1="226.2" y1="456.84" x2="248.7" y2="456.84"/><line x1="236.2" y1="351.68" x2="248.7" y2="351.68"/><line x1="226.2" y1="246.52" x2="248.7" y2="246.52"/><line x1="236.2" y1="141.36" x2="248.7" y2="141.36"/><line x1="226.2" y1="36.20" x2="248.7" y2="36.20"/><line x1="248.70" y1="1087.8" x2="248.70" y2="1109.8"/><line x1="391.15" y1="1087.8" x2="391.15" y2="1099.3"/><line x1="533.60" y1="1087.8" x2="533.60" y2="1109.8"/><line x1="676.05" y1="1087.8" x2="676.05" y2="1099.3"/><line x1="818.50" y1="1087.8" x2="818.50" y2="1109.8"/><line x1="960.95" y1="1087.8" x2="960.95" y2="1099.3"/><line x1="1103.40" y1="1087.8" x2="1103.40" y2="1109.8"/><line x1="1245.85" y1="1087.8" x2="1245.85" y2="1099.3"/><line x1="1388.30" y1="1087.8" x2="1388.30" y2="1109.8"/><line x1="1530.75" y1="1087.8" x2="1530.75" y2="1099.3"/><line x1="1673.20" y1="1087.8" x2="1673.20" y2="1109.8"/><line x1="1680.2" y1="1087.80" x2="1702.7" y2="1087.80"/><line x1="1680.2" y1="993.04" x2="1692.7" y2="993.04"/><line x1="1680.2" y1="898.28" x2="1702.7" y2="898.28"/><line x1="1680.2" y1="803.52" x2="1692.7" y2="803.52"/><line x1="1680.2" y1="708.76" x2="1702.7" y2="708.76"/><line x1="1680.2" y1="614.00" x2="1692.7" y2="614.00"/><line x1="1680.2" y1="519.24" x2="1702.7" y2="519.24"/><line x1="1680.2" y1="424.48" x2="1692.7" y2="424.48"/><line x1="1680.2" y1="329.72" x2="1702.7" y2="329.72"/><line x1="1680.2" y1="234.96" x2="1692.7" y2="234.96"/><line x1="1680.2" y1="140.20" x2="1702.7" y2="140.20"/><line x1="1680.2" y1="45.44" x2="1692.7" y2="45.44"/></g><g font-size="43.5" fill="#111"><text x="213.3" y="1098.6" text-anchor="end">0</text><text x="213.3" y="888.3" text-anchor="end">20</text><text x="213.3" y="678.0" text-anchor="end">40</text><text x="213.3" y="467.6" text-anchor="end">60</text><text x="213.3" y="257.3" text-anchor="end">80</text><text x="213.3" y="47.0" text-anchor="end">100</text><text x="248.70" y="1156.8" text-anchor="middle">2</text><text x="533.60" y="1156.8" text-anchor="middle">4</text><text x="818.50" y="1156.8" text-anchor="middle">6</text><text x="1103.40" y="1156.8" text-anchor="middle">8</text><text x="1388.30" y="1156.8" text-anchor="middle">10</text><text x="1673.20" y="1156.8" text-anchor="middle">12</text><text x="1715.6" y="1099.2">0.0</text><text x="1715.6" y="909.7">0.2</text><text x="1715.6" y="720.2">0.4</text><text x="1715.6" y="530.6">0.6</text><text x="1715.6" y="341.1">0.8</text><text x="1715.6" y="151.6">1.0</text></g><g fill="#fff"><rect x="143.33" y="42.48" width="8.31" height="5.72"/><rect x="155.47" y="42.48" width="7.87" height="5.72"/><rect x="1366.72" y="1152.28" width="8.31" height="5.72"/><rect x="1378.85" y="1152.28" width="7.87" height="5.72"/><rect x="1651.62" y="1152.28" width="8.31" height="5.72"/><rect x="1663.75" y="1152.28" width="7.87" height="5.72"/><rect x="1718.21" y="147.08" width="8.31" height="5.72"/><rect x="1730.35" y="147.08" width="7.87" height="5.72"/></g>
<g fill="#000" clip-path="url(#ca)"><rect x="253.6" y="1066.2" width="23.5" height="23.5"/><rect x="386.4" y="1068.3" width="23.5" height="23.5"/><rect x="556.0" y="1060.5" width="23.5" height="23.5"/><rect x="673.8" y="1028.5" width="23.5" height="23.5"/><rect x="766.6" y="1001.5" width="23.5" height="23.5"/><rect x="868.1" y="968.9" width="23.5" height="23.5"/><rect x="943.6" y="914.2" width="23.5" height="23.5"/><rect x="956.4" y="905.9" width="23.5" height="23.5"/><rect x="996.4" y="839.2" width="23.5" height="23.5"/><rect x="1031.5" y="772.0" width="23.5" height="23.5"/><rect x="1076.0" y="654.5" width="23.5" height="23.5"/><rect x="1134.3" y="490.6" width="23.5" height="23.5"/><rect x="1232.2" y="220.8" width="23.5" height="23.5"/><rect x="1291.2" y="115.5" width="23.5" height="23.5"/><rect x="1362.2" y="54.3" width="23.5" height="23.5"/><rect x="1447.7" y="42.0" width="23.5" height="23.5"/><rect x="1518.7" y="37.4" width="23.5" height="23.5"/><rect x="1590.2" y="50.6" width="23.5" height="23.5"/><rect x="1661.7" y="82.2" width="23.5" height="23.5"/></g>
<polyline points="249.5,1973.0 252.4,1984.7 255.2,1996.4 258.1,2007.9 261.0,2019.4 263.8,2030.6 266.7,2041.8 269.5,2052.8 272.4,2063.6 275.3,2074.3 278.1,2084.8 281.0,2095.1 283.9,2105.2 286.7,2115.2 289.6,2124.9 292.5,2134.4 295.3,2143.8 298.2,2152.9 301.0,2161.8 303.9,2170.5 306.8,2179.0 309.6,2187.3 312.5,2195.3 315.4,2203.1 318.2,2210.8 321.1,2218.2 324.0,2225.4 326.8,2232.4 329.7,2239.2 332.5,2245.7 335.4,2252.1 338.3,2258.3 341.1,2264.3 344.0,2270.0 346.9,2275.6 349.7,2281.0 352.6,2286.3 355.5,2291.3 358.3,2296.2 361.2,2300.8 364.0,2305.4 366.9,2309.7 369.8,2313.9 372.6,2318.0 375.5,2321.9 378.4,2325.6 381.2,2329.3 384.1,2332.7 387.0,2336.1 389.8,2339.3 392.7,2342.4 395.5,2345.3 398.4,2348.2 401.3,2350.9 404.1,2353.6 407.0,2356.1 409.9,2358.5 412.7,2360.8 415.6,2363.1 418.5,2365.2 421.3,2367.2 424.2,2369.2 427.0,2371.1 429.9,2372.9 432.8,2374.6 435.6,2376.3 438.5,2377.9 441.4,2379.4 444.2,2380.9 447.1,2382.3 450.0,2383.6 452.8,2384.9 455.7,2386.1 458.5,2387.3 461.4,2388.4 464.3,2389.5 467.1,2390.5 470.0,2391.5 472.9,2392.4 475.7,2393.3 478.6,2394.2 481.5,2395.0 484.3,2395.8 487.2,2396.5 490.0,2397.3 492.9,2398.0 495.8,2398.6 498.6,2399.2 501.5,2399.9 504.4,2400.4 507.2,2401.0 510.1,2401.5 513.0,2402.0 515.8,2402.5 518.7,2402.9 521.5,2403.4 524.4,2403.8 527.3,2404.2 530.1,2404.6 533.0,2405.0 535.9,2405.3 538.7,2405.6 541.6,2406.0 544.5,2406.3 547.3,2406.6 550.2,2406.8 553.0,2407.1 555.9,2407.4 558.8,2407.6 561.6,2407.8 564.5,2408.1 567.4,2408.3 570.2,2408.5 573.1,2408.7 576.0,2408.9 578.8,2409.0 581.7,2409.2 584.5,2409.4 587.4,2409.5 590.3,2409.7 593.1,2409.8 596.0,2409.9 598.9,2410.1 601.7,2410.2 604.6,2410.3 607.4,2410.4 610.3,2410.5 613.2,2410.6 616.0,2410.7 618.9,2410.8 621.8,2410.9 624.6,2411.0 627.5,2411.1 630.4,2411.2 633.2,2411.2 636.1,2411.3 638.9,2411.4 641.8,2411.4 644.7,2411.5 647.5,2411.5 650.4,2411.6 653.3,2411.7 656.1,2411.7 659.0,2411.8 661.9,2411.8 664.7,2411.8 667.6,2411.9 670.4,2411.9 673.3,2412.0 676.2,2412.0 679.0,2412.0 681.9,2412.1 684.8,2412.1 687.6,2412.1 690.5,2412.2 693.4,2412.2 696.2,2412.2 699.1,2412.2 701.9,2412.3 704.8,2412.3 707.7,2412.3 710.5,2412.3 713.4,2412.4 716.3,2412.4 719.1,2412.4 722.0,2412.4 724.9,2412.4 727.7,2412.4 730.6,2412.5 733.4,2412.5 736.3,2412.5 739.2,2412.5 742.0,2412.5 744.9,2412.5 747.8,2412.5 750.6,2412.5 753.5,2412.5 756.4,2412.6 759.2,2412.6 762.1,2412.6 764.9,2412.6 767.8,2412.6 770.7,2412.6 773.5,2412.6 776.4,2412.6 779.3,2412.6 782.1,2412.6 785.0,2412.6 787.9,2412.6 790.7,2412.6 793.6,2412.6 796.4,2412.6 799.3,2412.6 802.2,2412.6 805.0,2412.7 807.9,2412.7 810.8,2412.7 813.6,2412.7 816.5,2412.7 819.4,2412.7 822.2,2412.7 825.1,2412.7 827.9,2412.7 830.8,2412.7 833.7,2412.7 836.5,2412.7 839.4,2412.7 842.3,2412.7 845.1,2412.7 848.0,2412.7 850.9,2412.7 853.7,2412.7 856.6,2412.7 859.4,2412.7 862.3,2412.7 865.2,2412.7 868.0,2412.7 870.9,2412.7 873.8,2412.7 876.6,2412.7 879.5,2412.7 882.4,2412.7 885.2,2412.7 888.1,2412.7 890.9,2412.7 893.8,2412.7 896.7,2412.7 899.5,2412.7 902.4,2412.7 905.3,2412.7 908.1,2412.7 911.0,2412.7 913.9,2412.7 916.7,2412.7 919.6,2412.7 922.4,2412.7 925.3,2412.7 928.2,2412.7 931.0,2412.7 933.9,2412.7 936.8,2412.7 939.6,2412.7 942.5,2412.7 945.4,2412.7 948.2,2412.7 951.1,2412.7 953.9,2412.7 956.8,2412.7 959.7,2412.7 962.5,2412.7 965.4,2412.7 968.3,2412.7 971.1,2412.7 974.0,2412.7 976.9,2412.7 979.7,2412.7 982.6,2412.7 985.4,2412.7 988.3,2412.7 991.2,2412.7 994.0,2412.7 996.9,2412.7 999.8,2412.7 1002.6,2412.7 1005.5,2412.7 1008.4,2412.7 1011.2,2412.7 1014.1,2412.7 1016.9,2412.7 1019.8,2412.7 1022.7,2412.7 1025.5,2412.7 1028.4,2412.7 1031.3,2412.7 1034.1,2412.7 1037.0,2412.7 1039.9,2412.7 1042.7,2412.7 1045.6,2412.7 1048.4,2412.7 1051.3,2412.7 1054.2,2412.7 1057.0,2412.7 1059.9,2412.7 1062.8,2412.7 1065.6,2412.7 1068.5,2412.7 1071.4,2412.7 1074.2,2412.7 1077.1,2412.7 1079.9,2412.7 1082.8,2412.7 1085.7,2412.7 1088.5,2412.7 1091.4,2412.7 1094.3,2412.7 1097.1,2412.7 1100.0,2412.7 1102.9,2412.7 1105.7,2412.7 1108.6,2412.7 1111.4,2412.7 1114.3,2412.7 1117.2,2412.7 1120.0,2412.7 1122.9,2412.7 1125.8,2412.7 1128.6,2412.7 1131.5,2412.7 1134.4,2412.7 1137.2,2412.7 1140.1,2412.7 1142.9,2412.7 1145.8,2412.7 1148.7,2412.7 1151.5,2412.7 1154.4,2412.7 1157.3,2412.7 1160.1,2412.7 1163.0,2412.7 1165.9,2412.7 1168.7,2412.7 1171.6,2412.7 1174.4,2412.7 1177.3,2412.7 1180.2,2412.7 1183.0,2412.7 1185.9,2412.7 1188.8,2412.7 1191.6,2412.7 1194.5,2412.7 1197.4,2412.7 1200.2,2412.7 1203.1,2412.7 1205.9,2412.7 1208.8,2412.7 1211.7,2412.7 1214.5,2412.7 1217.4,2412.7 1220.3,2412.7 1223.1,2412.7 1226.0,2412.7 1228.9,2412.7 1231.7,2412.7 1234.6,2412.7 1237.4,2412.7 1240.3,2412.7 1243.2,2412.7 1246.0,2412.7 1248.9,2412.7 1251.8,2412.7 1254.6,2412.7 1257.5,2412.7 1260.4,2412.7 1263.2,2412.7 1266.1,2412.7 1268.9,2412.7 1271.8,2412.7 1274.7,2412.7 1277.5,2412.7 1280.4,2412.7 1283.3,2412.7 1286.1,2412.7 1289.0,2412.7 1291.9,2412.7 1294.7,2412.7 1297.6,2412.7 1300.4,2412.7 1303.3,2412.7 1306.2,2412.7 1309.0,2412.7 1311.9,2412.7 1314.8,2412.7 1317.6,2412.7 1320.5,2412.7 1323.3,2412.7 1326.2,2412.7 1329.1,2412.7 1331.9,2412.7 1334.8,2412.7 1337.7,2412.7 1340.5,2412.7 1343.4,2412.7 1346.3,2412.7 1349.1,2412.7 1352.0,2412.7 1354.8,2412.7 1357.7,2412.7 1360.6,2412.7 1363.4,2412.7 1366.3,2412.7 1369.2,2412.7 1372.0,2412.7 1374.9,2412.7 1377.8,2412.7 1380.6,2412.7 1383.5,2412.7 1386.3,2412.7 1389.2,2412.7 1392.1,2412.7 1394.9,2412.7 1397.8,2412.7 1400.7,2412.7 1403.5,2412.7 1406.4,2412.7 1409.3,2412.7 1412.1,2412.7 1415.0,2412.7 1417.8,2412.7 1420.7,2412.7 1423.6,2412.7 1426.4,2412.7 1429.3,2412.7 1432.2,2412.7 1435.0,2412.7 1437.9,2412.7 1440.8,2412.7 1443.6,2412.7 1446.5,2412.7 1449.3,2412.7 1452.2,2412.7 1455.1,2412.7 1457.9,2412.7 1460.8,2412.7 1463.7,2412.7 1466.5,2412.7 1469.4,2412.7 1472.3,2412.7 1475.1,2412.7 1478.0,2412.7 1480.8,2412.7 1483.7,2412.7 1486.6,2412.7 1489.4,2412.7 1492.3,2412.7 1495.2,2412.7 1498.0,2412.7 1500.9,2412.7 1503.8,2412.7 1506.6,2412.7 1509.5,2412.7 1512.3,2412.7 1515.2,2412.7 1518.1,2412.7 1520.9,2412.7 1523.8,2412.7 1526.7,2412.7 1529.5,2412.7 1532.4,2412.7 1535.3,2412.7 1538.1,2412.7 1541.0,2412.7 1543.8,2412.7 1546.7,2412.7 1549.6,2412.7 1552.4,2412.7 1555.3,2412.7 1558.2,2412.7 1561.0,2412.7 1563.9,2412.7 1566.8,2412.7 1569.6,2412.7 1572.5,2412.7 1575.3,2412.7 1578.2,2412.7 1581.1,2412.7 1583.9,2412.7 1586.8,2412.7 1589.7,2412.7 1592.5,2412.7 1595.4,2412.7 1598.3,2412.7 1601.1,2412.7 1604.0,2412.7 1606.8,2412.7 1609.7,2412.7 1612.6,2412.7 1615.4,2412.7 1618.3,2412.7 1621.2,2412.7 1624.0,2412.7 1626.9,2412.7 1629.8,2412.7 1632.6,2412.7 1635.5,2412.7 1638.3,2412.7 1641.2,2412.7 1644.1,2412.7 1646.9,2412.7 1649.8,2412.7 1652.7,2412.7 1655.5,2412.7 1658.4,2412.7 1661.3,2412.7 1664.1,2412.7 1667.0,2412.7 1669.8,2412.7 1672.7,2412.7 1675.6,2412.7 1678.4,2412.7 1681.3,2412.7" fill="none" stroke="#7a7a7a" stroke-width="2.9" stroke-linejoin="round" clip-path="url(#cb)"/>
<polyline points="249.5,1798.7 252.4,1787.0 255.2,1775.3 258.1,1763.8 261.0,1752.4 263.8,1741.1 266.7,1729.9 269.5,1719.0 272.4,1708.1 275.3,1697.5 278.1,1687.0 281.0,1676.7 283.9,1666.6 286.7,1656.6 289.6,1646.9 292.5,1637.4 295.3,1628.1 298.2,1619.0 301.0,1610.1 303.9,1601.4 306.8,1592.9 309.6,1584.7 312.5,1576.6 315.4,1568.8 318.2,1561.2 321.1,1553.8 324.0,1546.6 326.8,1539.7 329.7,1532.9 332.5,1526.3 335.4,1520.0 338.3,1513.9 341.1,1507.9 344.0,1502.2 346.9,1496.6 349.7,1491.2 352.6,1486.0 355.5,1481.0 358.3,1476.2 361.2,1471.6 364.0,1467.1 366.9,1462.8 369.8,1458.6 372.6,1454.6 375.5,1450.8 378.4,1447.1 381.2,1443.5 384.1,1440.1 387.0,1436.8 389.8,1433.7 392.7,1430.6 395.5,1427.7 398.4,1425.0 401.3,1422.3 404.1,1419.8 407.0,1417.3 409.9,1415.0 412.7,1412.8 415.6,1410.6 418.5,1408.6 421.3,1406.6 424.2,1404.8 427.0,1403.0 429.9,1401.3 432.8,1399.7 435.6,1398.2 438.5,1396.8 441.4,1395.4 444.2,1394.1 447.1,1392.9 450.0,1391.7 452.8,1390.6 455.7,1389.5 458.5,1388.6 461.4,1387.7 464.3,1386.8 467.1,1386.0 470.0,1385.2 472.9,1384.5 475.7,1383.9 478.6,1383.3 481.5,1382.8 484.3,1382.3 487.2,1381.8 490.0,1381.4 492.9,1381.1 495.8,1380.8 498.6,1380.5 501.5,1380.3 504.4,1380.1 507.2,1380.0 510.1,1379.9 513.0,1379.9 515.8,1379.9 518.7,1379.9 521.5,1380.0 524.4,1380.1 527.3,1380.3 530.1,1380.5 533.0,1380.8 535.9,1381.1 538.7,1381.5 541.6,1381.9 544.5,1382.3 547.3,1382.8 550.2,1383.4 553.0,1384.0 555.9,1384.6 558.8,1385.3 561.6,1386.1 564.5,1386.9 567.4,1387.8 570.2,1388.7 573.1,1389.7 576.0,1390.7 578.8,1391.8 581.7,1393.0 584.5,1394.2 587.4,1395.6 590.3,1396.9 593.1,1398.4 596.0,1399.9 598.9,1401.6 601.7,1403.3 604.6,1405.0 607.4,1406.9 610.3,1408.9 613.2,1410.9 616.0,1413.1 618.9,1415.3 621.8,1417.7 624.6,1420.1 627.5,1422.7 630.4,1425.4 633.2,1428.2 636.1,1431.1 638.9,1434.1 641.8,1437.3 644.7,1440.6 647.5,1444.1 650.4,1447.6 653.3,1451.4 656.1,1455.3 659.0,1459.3 661.9,1463.5 664.7,1467.9 667.6,1472.4 670.4,1477.1 673.3,1482.0 676.2,1487.0 679.0,1492.3 681.9,1497.7 684.8,1503.3 687.6,1509.1 690.5,1515.1 693.4,1521.4 696.2,1527.8 699.1,1534.4 701.9,1541.3 704.8,1548.3 707.7,1555.6 710.5,1563.1 713.4,1570.8 716.3,1578.8 719.1,1586.9 722.0,1595.3 724.9,1603.9 727.7,1612.8 730.6,1621.8 733.4,1631.1 736.3,1640.6 739.2,1650.3 742.0,1660.2 744.9,1670.3 747.8,1680.6 750.6,1691.1 753.5,1701.8 756.4,1712.7 759.2,1723.8 762.1,1735.0 764.9,1746.4 767.8,1757.9 770.7,1769.6 773.5,1781.4 776.4,1793.4 779.3,1805.4 782.1,1817.6 785.0,1829.8 787.9,1842.1 790.7,1854.5 793.6,1866.9 796.4,1879.4 799.3,1891.8 802.2,1904.3 805.0,1916.8 807.9,1929.3 810.8,1941.7 813.6,1954.1 816.5,1966.4 819.4,1978.7 822.2,1990.9 825.1,2003.0 827.9,2015.0 830.8,2026.8 833.7,2038.6 836.5,2050.2 839.4,2061.6 842.3,2072.9 845.1,2084.0 848.0,2095.0 850.9,2105.7 853.7,2116.3 856.6,2126.7 859.4,2136.9 862.3,2146.8 865.2,2156.6 868.0,2166.1 870.9,2175.5 873.8,2184.6 876.6,2193.5 879.5,2202.1 882.4,2210.5 885.2,2218.7 888.1,2226.7 890.9,2234.5 893.8,2242.0 896.7,2249.3 899.5,2256.3 902.4,2263.2 905.3,2269.8 908.1,2276.2 911.0,2282.4 913.9,2288.4 916.7,2294.2 919.6,2299.8 922.4,2305.1 925.3,2310.3 928.2,2315.3 931.0,2320.1 933.9,2324.7 936.8,2329.2 939.6,2333.4 942.5,2337.5 945.4,2341.4 948.2,2345.2 951.1,2348.8 953.9,2352.2 956.8,2355.5 959.7,2358.7 962.5,2361.7 965.4,2364.5 968.3,2367.3 971.1,2369.9 974.0,2372.4 976.9,2374.8 979.7,2377.0 982.6,2379.2 985.4,2381.2 988.3,2383.2 991.2,2385.0 994.0,2386.7 996.9,2388.4 999.8,2389.9 1002.6,2391.4 1005.5,2392.8 1008.4,2394.1 1011.2,2395.4 1014.1,2396.6 1016.9,2397.7 1019.8,2398.7 1022.7,2399.7 1025.5,2400.6 1028.4,2401.5 1031.3,2402.3 1034.1,2403.1 1037.0,2403.8 1039.9,2404.4 1042.7,2405.1 1045.6,2405.6 1048.4,2406.2 1051.3,2406.7 1054.2,2407.2 1057.0,2407.6 1059.9,2408.0 1062.8,2408.4 1065.6,2408.8 1068.5,2409.1 1071.4,2409.4 1074.2,2409.7 1077.1,2409.9 1079.9,2410.2 1082.8,2410.4 1085.7,2410.6 1088.5,2410.8 1091.4,2410.9 1094.3,2411.1 1097.1,2411.2 1100.0,2411.4 1102.9,2411.5 1105.7,2411.6 1108.6,2411.7 1111.4,2411.8 1114.3,2411.9 1117.2,2412.0 1120.0,2412.0 1122.9,2412.1 1125.8,2412.2 1128.6,2412.2 1131.5,2412.3 1134.4,2412.3 1137.2,2412.4 1140.1,2412.4 1142.9,2412.4 1145.8,2412.4 1148.7,2412.5 1151.5,2412.5 1154.4,2412.5 1157.3,2412.5 1160.1,2412.6 1163.0,2412.6 1165.9,2412.6 1168.7,2412.6 1171.6,2412.6 1174.4,2412.6 1177.3,2412.6 1180.2,2412.6 1183.0,2412.6 1185.9,2412.7 1188.8,2412.7 1191.6,2412.7 1194.5,2412.7 1197.4,2412.7 1200.2,2412.7 1203.1,2412.7 1205.9,2412.7 1208.8,2412.7 1211.7,2412.7 1214.5,2412.7 1217.4,2412.7 1220.3,2412.7 1223.1,2412.7 1226.0,2412.7 1228.9,2412.7 1231.7,2412.7 1234.6,2412.7 1237.4,2412.7 1240.3,2412.7 1243.2,2412.7 1246.0,2412.7 1248.9,2412.7 1251.8,2412.7 1254.6,2412.7 1257.5,2412.7 1260.4,2412.7 1263.2,2412.7 1266.1,2412.7 1268.9,2412.7 1271.8,2412.7 1274.7,2412.7 1277.5,2412.7 1280.4,2412.7 1283.3,2412.7 1286.1,2412.7 1289.0,2412.7 1291.9,2412.7 1294.7,2412.7 1297.6,2412.7 1300.4,2412.7 1303.3,2412.7 1306.2,2412.7 1309.0,2412.7 1311.9,2412.7 1314.8,2412.7 1317.6,2412.7 1320.5,2412.7 1323.3,2412.7 1326.2,2412.7 1329.1,2412.7 1331.9,2412.7 1334.8,2412.7 1337.7,2412.7 1340.5,2412.7 1343.4,2412.7 1346.3,2412.7 1349.1,2412.7 1352.0,2412.7 1354.8,2412.7 1357.7,2412.7 1360.6,2412.7 1363.4,2412.7 1366.3,2412.7 1369.2,2412.7 1372.0,2412.7 1374.9,2412.7 1377.8,2412.7 1380.6,2412.7 1383.5,2412.7 1386.3,2412.7 1389.2,2412.7 1392.1,2412.7 1394.9,2412.7 1397.8,2412.7 1400.7,2412.7 1403.5,2412.7 1406.4,2412.7 1409.3,2412.7 1412.1,2412.7 1415.0,2412.7 1417.8,2412.7 1420.7,2412.7 1423.6,2412.7 1426.4,2412.7 1429.3,2412.7 1432.2,2412.7 1435.0,2412.7 1437.9,2412.7 1440.8,2412.7 1443.6,2412.7 1446.5,2412.7 1449.3,2412.7 1452.2,2412.7 1455.1,2412.7 1457.9,2412.7 1460.8,2412.7 1463.7,2412.7 1466.5,2412.7 1469.4,2412.7 1472.3,2412.7 1475.1,2412.7 1478.0,2412.7 1480.8,2412.7 1483.7,2412.7 1486.6,2412.7 1489.4,2412.7 1492.3,2412.7 1495.2,2412.7 1498.0,2412.7 1500.9,2412.7 1503.8,2412.7 1506.6,2412.7 1509.5,2412.7 1512.3,2412.7 1515.2,2412.7 1518.1,2412.7 1520.9,2412.7 1523.8,2412.7 1526.7,2412.7 1529.5,2412.7 1532.4,2412.7 1535.3,2412.7 1538.1,2412.7 1541.0,2412.7 1543.8,2412.7 1546.7,2412.7 1549.6,2412.7 1552.4,2412.7 1555.3,2412.7 1558.2,2412.7 1561.0,2412.7 1563.9,2412.7 1566.8,2412.7 1569.6,2412.7 1572.5,2412.7 1575.3,2412.7 1578.2,2412.7 1581.1,2412.7 1583.9,2412.7 1586.8,2412.7 1589.7,2412.7 1592.5,2412.7 1595.4,2412.7 1598.3,2412.7 1601.1,2412.7 1604.0,2412.7 1606.8,2412.7 1609.7,2412.7 1612.6,2412.7 1615.4,2412.7 1618.3,2412.7 1621.2,2412.7 1624.0,2412.7 1626.9,2412.7 1629.8,2412.7 1632.6,2412.7 1635.5,2412.7 1638.3,2412.7 1641.2,2412.7 1644.1,2412.7 1646.9,2412.7 1649.8,2412.7 1652.7,2412.7 1655.5,2412.7 1658.4,2412.7 1661.3,2412.7 1664.1,2412.7 1667.0,2412.7 1669.8,2412.7 1672.7,2412.7 1675.6,2412.7 1678.4,2412.7 1681.3,2412.7" fill="none" stroke="#7a7a7a" stroke-width="2.9" stroke-linejoin="round" clip-path="url(#cb)"/>
<polyline points="249.5,2412.6 252.4,2412.6 255.2,2412.6 258.1,2412.6 261.0,2412.6 263.8,2412.6 266.7,2412.6 269.5,2412.6 272.4,2412.6 275.3,2412.5 278.1,2412.5 281.0,2412.5 283.9,2412.5 286.7,2412.5 289.6,2412.5 292.5,2412.5 295.3,2412.5 298.2,2412.5 301.0,2412.4 303.9,2412.4 306.8,2412.4 309.6,2412.4 312.5,2412.4 315.4,2412.4 318.2,2412.3 321.1,2412.3 324.0,2412.3 326.8,2412.3 329.7,2412.2 332.5,2412.2 335.4,2412.2 338.3,2412.2 341.1,2412.1 344.0,2412.1 346.9,2412.1 349.7,2412.0 352.6,2412.0 355.5,2412.0 358.3,2411.9 361.2,2411.9 364.0,2411.8 366.9,2411.8 369.8,2411.8 372.6,2411.7 375.5,2411.7 378.4,2411.6 381.2,2411.5 384.1,2411.5 387.0,2411.4 389.8,2411.4 392.7,2411.3 395.5,2411.2 398.4,2411.1 401.3,2411.1 404.1,2411.0 407.0,2410.9 409.9,2410.8 412.7,2410.7 415.6,2410.6 418.5,2410.5 421.3,2410.4 424.2,2410.3 427.0,2410.2 429.9,2410.1 432.8,2409.9 435.6,2409.8 438.5,2409.7 441.4,2409.5 444.2,2409.4 447.1,2409.2 450.0,2409.0 452.8,2408.8 455.7,2408.7 458.5,2408.5 461.4,2408.3 464.3,2408.0 467.1,2407.8 470.0,2407.6 472.9,2407.3 475.7,2407.1 478.6,2406.8 481.5,2406.5 484.3,2406.2 487.2,2405.9 490.0,2405.6 492.9,2405.3 495.8,2404.9 498.6,2404.6 501.5,2404.2 504.4,2403.8 507.2,2403.3 510.1,2402.9 513.0,2402.4 515.8,2402.0 518.7,2401.5 521.5,2400.9 524.4,2400.4 527.3,2399.8 530.1,2399.2 533.0,2398.6 535.9,2397.9 538.7,2397.2 541.6,2396.5 544.5,2395.7 547.3,2394.9 550.2,2394.1 553.0,2393.2 555.9,2392.3 558.8,2391.4 561.6,2390.4 564.5,2389.4 567.4,2388.3 570.2,2387.2 573.1,2386.0 576.0,2384.7 578.8,2383.5 581.7,2382.1 584.5,2380.7 587.4,2379.3 590.3,2377.7 593.1,2376.1 596.0,2374.5 598.9,2372.7 601.7,2370.9 604.6,2369.0 607.4,2367.0 610.3,2365.0 613.2,2362.8 616.0,2360.6 618.9,2358.3 621.8,2355.8 624.6,2353.3 627.5,2350.7 630.4,2347.9 633.2,2345.1 636.1,2342.1 638.9,2339.0 641.8,2335.8 644.7,2332.4 647.5,2328.9 650.4,2325.3 653.3,2321.5 656.1,2317.6 659.0,2313.6 661.9,2309.3 664.7,2305.0 667.6,2300.4 670.4,2295.7 673.3,2290.8 676.2,2285.8 679.0,2280.6 681.9,2275.2 684.8,2269.6 687.6,2263.8 690.5,2257.8 693.4,2251.6 696.2,2245.2 699.1,2238.7 701.9,2231.9 704.8,2224.9 707.7,2217.7 710.5,2210.3 713.4,2202.7 716.3,2194.9 719.1,2186.8 722.0,2178.6 724.9,2170.1 727.7,2161.5 730.6,2152.6 733.4,2143.6 736.3,2134.3 739.2,2124.8 742.0,2115.2 744.9,2105.3 747.8,2095.3 750.6,2085.1 753.5,2074.8 756.4,2064.3 759.2,2053.6 762.1,2042.8 764.9,2031.9 767.8,2020.9 770.7,2009.7 773.5,1998.5 776.4,1987.2 779.3,1975.8 782.1,1964.4 785.0,1952.9 787.9,1941.4 790.7,1929.9 793.6,1918.4 796.4,1906.9 799.3,1895.4 802.2,1884.0 805.0,1872.7 807.9,1861.5 810.8,1850.3 813.6,1839.3 816.5,1828.5 819.4,1817.7 822.2,1807.2 825.1,1796.8 827.9,1786.7 830.8,1776.7 833.7,1767.0 836.5,1757.5 839.4,1748.3 842.3,1739.4 845.1,1730.7 848.0,1722.4 850.9,1714.3 853.7,1706.6 856.6,1699.2 859.4,1692.2 862.3,1685.5 865.2,1679.2 868.0,1673.2 870.9,1667.7 873.8,1662.5 876.6,1657.7 879.5,1653.3 882.4,1649.4 885.2,1645.8 888.1,1642.7 890.9,1640.0 893.8,1637.7 896.7,1635.8 899.5,1634.4 902.4,1633.4 905.3,1632.9 908.1,1632.8 911.0,1633.1 913.9,1633.9 916.7,1635.1 919.6,1636.8 922.4,1638.9 925.3,1641.5 928.2,1644.4 931.0,1647.9 933.9,1651.7 936.8,1656.0 939.6,1660.7 942.5,1665.9 945.4,1671.4 948.2,1677.4 951.1,1683.8 953.9,1690.5 956.8,1697.7 959.7,1705.3 962.5,1713.2 965.4,1721.5 968.3,1730.1 971.1,1739.1 974.0,1748.4 976.9,1758.1 979.7,1768.0 982.6,1778.3 985.4,1788.8 988.3,1799.6 991.2,1810.7 994.0,1821.9 996.9,1833.5 999.8,1845.2 1002.6,1857.1 1005.5,1869.1 1008.4,1881.3 1011.2,1893.7 1014.1,1906.1 1016.9,1918.7 1019.8,1931.3 1022.7,1944.0 1025.5,1956.7 1028.4,1969.4 1031.3,1982.2 1034.1,1994.9 1037.0,2007.6 1039.9,2020.2 1042.7,2032.7 1045.6,2045.2 1048.4,2057.6 1051.3,2069.8 1054.2,2081.9 1057.0,2093.8 1059.9,2105.6 1062.8,2117.2 1065.6,2128.6 1068.5,2139.9 1071.4,2150.9 1074.2,2161.6 1077.1,2172.2 1079.9,2182.5 1082.8,2192.6 1085.7,2202.4 1088.5,2211.9 1091.4,2221.2 1094.3,2230.2 1097.1,2239.0 1100.0,2247.5 1102.9,2255.7 1105.7,2263.6 1108.6,2271.3 1111.4,2278.7 1114.3,2285.8 1117.2,2292.6 1120.0,2299.2 1122.9,2305.5 1125.8,2311.6 1128.6,2317.4 1131.5,2322.9 1134.4,2328.2 1137.2,2333.3 1140.1,2338.1 1142.9,2342.7 1145.8,2347.1 1148.7,2351.2 1151.5,2355.1 1154.4,2358.9 1157.3,2362.4 1160.1,2365.8 1163.0,2368.9 1165.9,2371.9 1168.7,2374.7 1171.6,2377.4 1174.4,2379.9 1177.3,2382.2 1180.2,2384.4 1183.0,2386.5 1185.9,2388.4 1188.8,2390.2 1191.6,2391.9 1194.5,2393.5 1197.4,2395.0 1200.2,2396.4 1203.1,2397.6 1205.9,2398.8 1208.8,2399.9 1211.7,2401.0 1214.5,2401.9 1217.4,2402.8 1220.3,2403.6 1223.1,2404.4 1226.0,2405.1 1228.9,2405.7 1231.7,2406.3 1234.6,2406.9 1237.4,2407.4 1240.3,2407.9 1243.2,2408.3 1246.0,2408.7 1248.9,2409.1 1251.8,2409.4 1254.6,2409.7 1257.5,2410.0 1260.4,2410.2 1263.2,2410.5 1266.1,2410.7 1268.9,2410.9 1271.8,2411.0 1274.7,2411.2 1277.5,2411.3 1280.4,2411.5 1283.3,2411.6 1286.1,2411.7 1289.0,2411.8 1291.9,2411.9 1294.7,2412.0 1297.6,2412.1 1300.4,2412.1 1303.3,2412.2 1306.2,2412.2 1309.0,2412.3 1311.9,2412.3 1314.8,2412.4 1317.6,2412.4 1320.5,2412.4 1323.3,2412.5 1326.2,2412.5 1329.1,2412.5 1331.9,2412.5 1334.8,2412.5 1337.7,2412.6 1340.5,2412.6 1343.4,2412.6 1346.3,2412.6 1349.1,2412.6 1352.0,2412.6 1354.8,2412.6 1357.7,2412.6 1360.6,2412.6 1363.4,2412.7 1366.3,2412.7 1369.2,2412.7 1372.0,2412.7 1374.9,2412.7 1377.8,2412.7 1380.6,2412.7 1383.5,2412.7 1386.3,2412.7 1389.2,2412.7 1392.1,2412.7 1394.9,2412.7 1397.8,2412.7 1400.7,2412.7 1403.5,2412.7 1406.4,2412.7 1409.3,2412.7 1412.1,2412.7 1415.0,2412.7 1417.8,2412.7 1420.7,2412.7 1423.6,2412.7 1426.4,2412.7 1429.3,2412.7 1432.2,2412.7 1435.0,2412.7 1437.9,2412.7 1440.8,2412.7 1443.6,2412.7 1446.5,2412.7 1449.3,2412.7 1452.2,2412.7 1455.1,2412.7 1457.9,2412.7 1460.8,2412.7 1463.7,2412.7 1466.5,2412.7 1469.4,2412.7 1472.3,2412.7 1475.1,2412.7 1478.0,2412.7 1480.8,2412.7 1483.7,2412.7 1486.6,2412.7 1489.4,2412.7 1492.3,2412.7 1495.2,2412.7 1498.0,2412.7 1500.9,2412.7 1503.8,2412.7 1506.6,2412.7 1509.5,2412.7 1512.3,2412.7 1515.2,2412.7 1518.1,2412.7 1520.9,2412.7 1523.8,2412.7 1526.7,2412.7 1529.5,2412.7 1532.4,2412.7 1535.3,2412.7 1538.1,2412.7 1541.0,2412.7 1543.8,2412.7 1546.7,2412.7 1549.6,2412.7 1552.4,2412.7 1555.3,2412.7 1558.2,2412.7 1561.0,2412.7 1563.9,2412.7 1566.8,2412.7 1569.6,2412.7 1572.5,2412.7 1575.3,2412.7 1578.2,2412.7 1581.1,2412.7 1583.9,2412.7 1586.8,2412.7 1589.7,2412.7 1592.5,2412.7 1595.4,2412.7 1598.3,2412.7 1601.1,2412.7 1604.0,2412.7 1606.8,2412.7 1609.7,2412.7 1612.6,2412.7 1615.4,2412.7 1618.3,2412.7 1621.2,2412.7 1624.0,2412.7 1626.9,2412.7 1629.8,2412.7 1632.6,2412.7 1635.5,2412.7 1638.3,2412.7 1641.2,2412.7 1644.1,2412.7 1646.9,2412.7 1649.8,2412.7 1652.7,2412.7 1655.5,2412.7 1658.4,2412.7 1661.3,2412.7 1664.1,2412.7 1667.0,2412.7 1669.8,2412.7 1672.7,2412.7 1675.6,2412.7 1678.4,2412.7 1681.3,2412.7" fill="none" stroke="#7a7a7a" stroke-width="2.9" stroke-linejoin="round" clip-path="url(#cb)"/>
<polyline points="249.5,2412.7 252.4,2412.7 255.2,2412.7 258.1,2412.7 261.0,2412.7 263.8,2412.7 266.7,2412.7 269.5,2412.7 272.4,2412.7 275.3,2412.7 278.1,2412.7 281.0,2412.7 283.9,2412.7 286.7,2412.7 289.6,2412.7 292.5,2412.7 295.3,2412.7 298.2,2412.7 301.0,2412.7 303.9,2412.7 306.8,2412.7 309.6,2412.7 312.5,2412.7 315.4,2412.7 318.2,2412.7 321.1,2412.7 324.0,2412.7 326.8,2412.7 329.7,2412.7 332.5,2412.7 335.4,2412.7 338.3,2412.7 341.1,2412.7 344.0,2412.7 346.9,2412.7 349.7,2412.7 352.6,2412.7 355.5,2412.7 358.3,2412.7 361.2,2412.7 364.0,2412.7 366.9,2412.7 369.8,2412.7 372.6,2412.7 375.5,2412.7 378.4,2412.7 381.2,2412.7 384.1,2412.7 387.0,2412.7 389.8,2412.7 392.7,2412.7 395.5,2412.7 398.4,2412.7 401.3,2412.7 404.1,2412.7 407.0,2412.7 409.9,2412.7 412.7,2412.7 415.6,2412.7 418.5,2412.7 421.3,2412.7 424.2,2412.7 427.0,2412.7 429.9,2412.7 432.8,2412.7 435.6,2412.7 438.5,2412.7 441.4,2412.7 444.2,2412.7 447.1,2412.7 450.0,2412.7 452.8,2412.7 455.7,2412.7 458.5,2412.7 461.4,2412.7 464.3,2412.7 467.1,2412.7 470.0,2412.7 472.9,2412.7 475.7,2412.7 478.6,2412.7 481.5,2412.7 484.3,2412.7 487.2,2412.7 490.0,2412.7 492.9,2412.7 495.8,2412.7 498.6,2412.7 501.5,2412.7 504.4,2412.7 507.2,2412.7 510.1,2412.7 513.0,2412.7 515.8,2412.7 518.7,2412.7 521.5,2412.7 524.4,2412.7 527.3,2412.7 530.1,2412.7 533.0,2412.7 535.9,2412.7 538.7,2412.7 541.6,2412.7 544.5,2412.7 547.3,2412.7 550.2,2412.7 553.0,2412.7 555.9,2412.7 558.8,2412.7 561.6,2412.7 564.5,2412.7 567.4,2412.7 570.2,2412.7 573.1,2412.7 576.0,2412.7 578.8,2412.7 581.7,2412.7 584.5,2412.7 587.4,2412.7 590.3,2412.7 593.1,2412.7 596.0,2412.7 598.9,2412.7 601.7,2412.6 604.6,2412.6 607.4,2412.6 610.3,2412.6 613.2,2412.6 616.0,2412.6 618.9,2412.6 621.8,2412.6 624.6,2412.6 627.5,2412.6 630.4,2412.6 633.2,2412.6 636.1,2412.5 638.9,2412.5 641.8,2412.5 644.7,2412.5 647.5,2412.5 650.4,2412.5 653.3,2412.4 656.1,2412.4 659.0,2412.4 661.9,2412.4 664.7,2412.3 667.6,2412.3 670.4,2412.3 673.3,2412.2 676.2,2412.2 679.0,2412.1 681.9,2412.1 684.8,2412.0 687.6,2412.0 690.5,2411.9 693.4,2411.8 696.2,2411.7 699.1,2411.7 701.9,2411.6 704.8,2411.5 707.7,2411.4 710.5,2411.2 713.4,2411.1 716.3,2411.0 719.1,2410.8 722.0,2410.7 724.9,2410.5 727.7,2410.3 730.6,2410.1 733.4,2409.9 736.3,2409.7 739.2,2409.4 742.0,2409.1 744.9,2408.8 747.8,2408.5 750.6,2408.2 753.5,2407.8 756.4,2407.5 759.2,2407.0 762.1,2406.6 764.9,2406.1 767.8,2405.6 770.7,2405.1 773.5,2404.5 776.4,2403.9 779.3,2403.2 782.1,2402.5 785.0,2401.7 787.9,2400.9 790.7,2400.1 793.6,2399.1 796.4,2398.2 799.3,2397.2 802.2,2396.1 805.0,2394.9 807.9,2393.7 810.8,2392.4 813.6,2391.0 816.5,2389.5 819.4,2388.0 822.2,2386.4 825.1,2384.7 827.9,2382.9 830.8,2381.0 833.7,2379.0 836.5,2376.9 839.4,2374.6 842.3,2372.3 845.1,2369.9 848.0,2367.3 850.9,2364.6 853.7,2361.8 856.6,2358.8 859.4,2355.7 862.3,2352.5 865.2,2349.1 868.0,2345.6 870.9,2341.9 873.8,2338.0 876.6,2334.0 879.5,2329.8 882.4,2325.5 885.2,2320.9 888.1,2316.2 890.9,2311.3 893.8,2306.2 896.7,2300.9 899.5,2295.4 902.4,2289.8 905.3,2283.9 908.1,2277.8 911.0,2271.5 913.9,2265.0 916.7,2258.3 919.6,2251.3 922.4,2244.2 925.3,2236.8 928.2,2229.3 931.0,2221.5 933.9,2213.5 936.8,2205.2 939.6,2196.8 942.5,2188.2 945.4,2179.4 948.2,2170.3 951.1,2161.1 953.9,2151.7 956.8,2142.1 959.7,2132.4 962.5,2122.4 965.4,2112.4 968.3,2102.1 971.1,2091.8 974.0,2081.3 976.9,2070.7 979.7,2060.1 982.6,2049.3 985.4,2038.5 988.3,2027.6 991.2,2016.8 994.0,2005.9 996.9,1995.0 999.8,1984.2 1002.6,1973.4 1005.5,1962.6 1008.4,1952.0 1011.2,1941.5 1014.1,1931.1 1016.9,1920.9 1019.8,1910.9 1022.7,1901.1 1025.5,1891.5 1028.4,1882.2 1031.3,1873.2 1034.1,1864.4 1037.0,1856.0 1039.9,1848.0 1042.7,1840.2 1045.6,1832.9 1048.4,1826.0 1051.3,1819.5 1054.2,1813.5 1057.0,1807.9 1059.9,1802.8 1062.8,1798.2 1065.6,1794.1 1068.5,1790.5 1071.4,1787.5 1074.2,1785.0 1077.1,1783.0 1079.9,1781.6 1082.8,1780.7 1085.7,1780.4 1088.5,1780.7 1091.4,1781.5 1094.3,1782.9 1097.1,1784.9 1100.0,1787.4 1102.9,1790.4 1105.7,1794.0 1108.6,1798.1 1111.4,1802.8 1114.3,1808.0 1117.2,1813.6 1120.0,1819.7 1122.9,1826.3 1125.8,1833.4 1128.6,1840.9 1131.5,1848.8 1134.4,1857.0 1137.2,1865.7 1140.1,1874.7 1142.9,1884.0 1145.8,1893.6 1148.7,1903.5 1151.5,1913.7 1154.4,1924.1 1157.3,1934.7 1160.1,1945.5 1163.0,1956.4 1165.9,1967.5 1168.7,1978.7 1171.6,1990.0 1174.4,2001.3 1177.3,2012.7 1180.2,2024.1 1183.0,2035.5 1185.9,2046.9 1188.8,2058.3 1191.6,2069.5 1194.5,2080.7 1197.4,2091.9 1200.2,2102.9 1203.1,2113.7 1205.9,2124.4 1208.8,2135.0 1211.7,2145.4 1214.5,2155.6 1217.4,2165.7 1220.3,2175.5 1223.1,2185.1 1226.0,2194.6 1228.9,2203.8 1231.7,2212.7 1234.6,2221.4 1237.4,2229.9 1240.3,2238.2 1243.2,2246.2 1246.0,2254.0 1248.9,2261.5 1251.8,2268.8 1254.6,2275.8 1257.5,2282.6 1260.4,2289.2 1263.2,2295.5 1266.1,2301.6 1268.9,2307.4 1271.8,2313.0 1274.7,2318.4 1277.5,2323.5 1280.4,2328.5 1283.3,2333.2 1286.1,2337.7 1289.0,2342.0 1291.9,2346.1 1294.7,2350.1 1297.6,2353.8 1300.4,2357.3 1303.3,2360.7 1306.2,2363.9 1309.0,2367.0 1311.9,2369.8 1314.8,2372.6 1317.6,2375.1 1320.5,2377.6 1323.3,2379.9 1326.2,2382.0 1329.1,2384.1 1331.9,2386.0 1334.8,2387.8 1337.7,2389.5 1340.5,2391.1 1343.4,2392.6 1346.3,2394.0 1349.1,2395.4 1352.0,2396.6 1354.8,2397.7 1357.7,2398.8 1360.6,2399.8 1363.4,2400.8 1366.3,2401.7 1369.2,2402.5 1372.0,2403.2 1374.9,2404.0 1377.8,2404.6 1380.6,2405.2 1383.5,2405.8 1386.3,2406.3 1389.2,2406.8 1392.1,2407.3 1394.9,2407.7 1397.8,2408.1 1400.7,2408.5 1403.5,2408.8 1406.4,2409.1 1409.3,2409.4 1412.1,2409.7 1415.0,2409.9 1417.8,2410.1 1420.7,2410.3 1423.6,2410.5 1426.4,2410.7 1429.3,2410.9 1432.2,2411.0 1435.0,2411.2 1437.9,2411.3 1440.8,2411.4 1443.6,2411.5 1446.5,2411.6 1449.3,2411.7 1452.2,2411.8 1455.1,2411.9 1457.9,2411.9 1460.8,2412.0 1463.7,2412.1 1466.5,2412.1 1469.4,2412.2 1472.3,2412.2 1475.1,2412.2 1478.0,2412.3 1480.8,2412.3 1483.7,2412.4 1486.6,2412.4 1489.4,2412.4 1492.3,2412.4 1495.2,2412.5 1498.0,2412.5 1500.9,2412.5 1503.8,2412.5 1506.6,2412.5 1509.5,2412.5 1512.3,2412.6 1515.2,2412.6 1518.1,2412.6 1520.9,2412.6 1523.8,2412.6 1526.7,2412.6 1529.5,2412.6 1532.4,2412.6 1535.3,2412.6 1538.1,2412.6 1541.0,2412.6 1543.8,2412.6 1546.7,2412.7 1549.6,2412.7 1552.4,2412.7 1555.3,2412.7 1558.2,2412.7 1561.0,2412.7 1563.9,2412.7 1566.8,2412.7 1569.6,2412.7 1572.5,2412.7 1575.3,2412.7 1578.2,2412.7 1581.1,2412.7 1583.9,2412.7 1586.8,2412.7 1589.7,2412.7 1592.5,2412.7 1595.4,2412.7 1598.3,2412.7 1601.1,2412.7 1604.0,2412.7 1606.8,2412.7 1609.7,2412.7 1612.6,2412.7 1615.4,2412.7 1618.3,2412.7 1621.2,2412.7 1624.0,2412.7 1626.9,2412.7 1629.8,2412.7 1632.6,2412.7 1635.5,2412.7 1638.3,2412.7 1641.2,2412.7 1644.1,2412.7 1646.9,2412.7 1649.8,2412.7 1652.7,2412.7 1655.5,2412.7 1658.4,2412.7 1661.3,2412.7 1664.1,2412.7 1667.0,2412.7 1669.8,2412.7 1672.7,2412.7 1675.6,2412.7 1678.4,2412.7 1681.3,2412.7" fill="none" stroke="#7a7a7a" stroke-width="2.9" stroke-linejoin="round" clip-path="url(#cb)"/>
<polyline points="249.5,2412.7 252.4,2412.7 255.2,2412.7 258.1,2412.7 261.0,2412.7 263.8,2412.7 266.7,2412.7 269.5,2412.7 272.4,2412.7 275.3,2412.7 278.1,2412.7 281.0,2412.7 283.9,2412.7 286.7,2412.7 289.6,2412.7 292.5,2412.7 295.3,2412.7 298.2,2412.7 301.0,2412.7 303.9,2412.7 306.8,2412.7 309.6,2412.7 312.5,2412.7 315.4,2412.7 318.2,2412.7 321.1,2412.7 324.0,2412.7 326.8,2412.7 329.7,2412.7 332.5,2412.7 335.4,2412.7 338.3,2412.7 341.1,2412.7 344.0,2412.7 346.9,2412.7 349.7,2412.7 352.6,2412.7 355.5,2412.7 358.3,2412.7 361.2,2412.7 364.0,2412.7 366.9,2412.7 369.8,2412.7 372.6,2412.7 375.5,2412.7 378.4,2412.7 381.2,2412.7 384.1,2412.7 387.0,2412.7 389.8,2412.7 392.7,2412.7 395.5,2412.7 398.4,2412.7 401.3,2412.7 404.1,2412.7 407.0,2412.7 409.9,2412.7 412.7,2412.7 415.6,2412.7 418.5,2412.7 421.3,2412.7 424.2,2412.7 427.0,2412.7 429.9,2412.7 432.8,2412.7 435.6,2412.7 438.5,2412.7 441.4,2412.7 444.2,2412.7 447.1,2412.7 450.0,2412.7 452.8,2412.7 455.7,2412.7 458.5,2412.7 461.4,2412.7 464.3,2412.7 467.1,2412.7 470.0,2412.7 472.9,2412.7 475.7,2412.7 478.6,2412.7 481.5,2412.7 484.3,2412.7 487.2,2412.7 490.0,2412.7 492.9,2412.7 495.8,2412.7 498.6,2412.7 501.5,2412.7 504.4,2412.7 507.2,2412.7 510.1,2412.7 513.0,2412.7 515.8,2412.7 518.7,2412.7 521.5,2412.7 524.4,2412.7 527.3,2412.7 530.1,2412.7 533.0,2412.7 535.9,2412.7 538.7,2412.7 541.6,2412.7 544.5,2412.7 547.3,2412.7 550.2,2412.7 553.0,2412.7 555.9,2412.7 558.8,2412.7 561.6,2412.7 564.5,2412.7 567.4,2412.7 570.2,2412.7 573.1,2412.7 576.0,2412.7 578.8,2412.7 581.7,2412.7 584.5,2412.7 587.4,2412.7 590.3,2412.7 593.1,2412.7 596.0,2412.7 598.9,2412.7 601.7,2412.7 604.6,2412.7 607.4,2412.7 610.3,2412.7 613.2,2412.7 616.0,2412.7 618.9,2412.7 621.8,2412.7 624.6,2412.7 627.5,2412.7 630.4,2412.7 633.2,2412.7 636.1,2412.7 638.9,2412.7 641.8,2412.7 644.7,2412.7 647.5,2412.7 650.4,2412.7 653.3,2412.7 656.1,2412.7 659.0,2412.7 661.9,2412.7 664.7,2412.7 667.6,2412.7 670.4,2412.7 673.3,2412.7 676.2,2412.7 679.0,2412.7 681.9,2412.7 684.8,2412.7 687.6,2412.7 690.5,2412.7 693.4,2412.7 696.2,2412.7 699.1,2412.7 701.9,2412.7 704.8,2412.7 707.7,2412.7 710.5,2412.7 713.4,2412.7 716.3,2412.7 719.1,2412.7 722.0,2412.7 724.9,2412.7 727.7,2412.7 730.6,2412.7 733.4,2412.7 736.3,2412.7 739.2,2412.7 742.0,2412.7 744.9,2412.7 747.8,2412.7 750.6,2412.7 753.5,2412.7 756.4,2412.7 759.2,2412.7 762.1,2412.7 764.9,2412.7 767.8,2412.7 770.7,2412.7 773.5,2412.7 776.4,2412.7 779.3,2412.7 782.1,2412.7 785.0,2412.7 787.9,2412.7 790.7,2412.7 793.6,2412.7 796.4,2412.7 799.3,2412.6 802.2,2412.6 805.0,2412.6 807.9,2412.6 810.8,2412.6 813.6,2412.6 816.5,2412.6 819.4,2412.6 822.2,2412.6 825.1,2412.6 827.9,2412.5 830.8,2412.5 833.7,2412.5 836.5,2412.5 839.4,2412.5 842.3,2412.4 845.1,2412.4 848.0,2412.4 850.9,2412.3 853.7,2412.3 856.6,2412.3 859.4,2412.2 862.3,2412.2 865.2,2412.1 868.0,2412.0 870.9,2412.0 873.8,2411.9 876.6,2411.8 879.5,2411.7 882.4,2411.6 885.2,2411.5 888.1,2411.4 890.9,2411.3 893.8,2411.1 896.7,2411.0 899.5,2410.8 902.4,2410.6 905.3,2410.4 908.1,2410.2 911.0,2410.0 913.9,2409.7 916.7,2409.4 919.6,2409.1 922.4,2408.8 925.3,2408.4 928.2,2408.0 931.0,2407.6 933.9,2407.1 936.8,2406.6 939.6,2406.0 942.5,2405.5 945.4,2404.8 948.2,2404.1 951.1,2403.4 953.9,2402.6 956.8,2401.7 959.7,2400.8 962.5,2399.8 965.4,2398.7 968.3,2397.5 971.1,2396.3 974.0,2394.9 976.9,2393.5 979.7,2392.0 982.6,2390.3 985.4,2388.6 988.3,2386.7 991.2,2384.7 994.0,2382.6 996.9,2380.4 999.8,2377.9 1002.6,2375.4 1005.5,2372.7 1008.4,2369.8 1011.2,2366.8 1014.1,2363.5 1016.9,2360.1 1019.8,2356.5 1022.7,2352.7 1025.5,2348.7 1028.4,2344.5 1031.3,2340.1 1034.1,2335.4 1037.0,2330.6 1039.9,2325.4 1042.7,2320.1 1045.6,2314.5 1048.4,2308.6 1051.3,2302.5 1054.2,2296.1 1057.0,2289.5 1059.9,2282.6 1062.8,2275.5 1065.6,2268.0 1068.5,2260.3 1071.4,2252.4 1074.2,2244.1 1077.1,2235.6 1079.9,2226.9 1082.8,2217.8 1085.7,2208.6 1088.5,2199.0 1091.4,2189.3 1094.3,2179.2 1097.1,2169.0 1100.0,2158.5 1102.9,2147.9 1105.7,2137.0 1108.6,2125.9 1111.4,2114.7 1114.3,2103.3 1117.2,2091.7 1120.0,2080.0 1122.9,2068.2 1125.8,2056.3 1128.6,2044.3 1131.5,2032.3 1134.4,2020.2 1137.2,2008.1 1140.1,1996.0 1142.9,1984.0 1145.8,1971.9 1148.7,1960.0 1151.5,1948.1 1154.4,1936.3 1157.3,1924.7 1160.1,1913.2 1163.0,1901.9 1165.9,1890.9 1168.7,1880.0 1171.6,1869.4 1174.4,1859.1 1177.3,1849.0 1180.2,1839.3 1183.0,1829.9 1185.9,1820.8 1188.8,1812.2 1191.6,1803.9 1194.5,1796.0 1197.4,1788.5 1200.2,1781.5 1203.1,1775.0 1205.9,1768.9 1208.8,1763.3 1211.7,1758.1 1214.5,1753.5 1217.4,1749.4 1220.3,1745.8 1223.1,1742.7 1226.0,1740.1 1228.9,1738.1 1231.7,1736.6 1234.6,1735.7 1237.4,1735.3 1240.3,1735.4 1243.2,1736.0 1246.0,1737.2 1248.9,1738.9 1251.8,1741.1 1254.6,1743.9 1257.5,1747.1 1260.4,1750.8 1263.2,1755.1 1266.1,1759.7 1268.9,1764.9 1271.8,1770.5 1274.7,1776.5 1277.5,1783.0 1280.4,1789.8 1283.3,1797.0 1286.1,1804.6 1289.0,1812.6 1291.9,1820.9 1294.7,1829.5 1297.6,1838.4 1300.4,1847.5 1303.3,1856.9 1306.2,1866.6 1309.0,1876.4 1311.9,1886.5 1314.8,1896.7 1317.6,1907.1 1320.5,1917.6 1323.3,1928.2 1326.2,1938.9 1329.1,1949.6 1331.9,1960.4 1334.8,1971.3 1337.7,1982.1 1340.5,1992.9 1343.4,2003.8 1346.3,2014.5 1349.1,2025.3 1352.0,2035.9 1354.8,2046.5 1357.7,2057.0 1360.6,2067.3 1363.4,2077.6 1366.3,2087.7 1369.2,2097.6 1372.0,2107.4 1374.9,2117.1 1377.8,2126.6 1380.6,2135.9 1383.5,2145.0 1386.3,2153.9 1389.2,2162.7 1392.1,2171.2 1394.9,2179.6 1397.8,2187.8 1400.7,2195.7 1403.5,2203.5 1406.4,2211.0 1409.3,2218.4 1412.1,2225.5 1415.0,2232.4 1417.8,2239.2 1420.7,2245.7 1423.6,2252.1 1426.4,2258.2 1429.3,2264.1 1432.2,2269.9 1435.0,2275.5 1437.9,2280.9 1440.8,2286.1 1443.6,2291.1 1446.5,2296.0 1449.3,2300.6 1452.2,2305.2 1455.1,2309.5 1457.9,2313.7 1460.8,2317.8 1463.7,2321.7 1466.5,2325.4 1469.4,2329.0 1472.3,2332.5 1475.1,2335.8 1478.0,2339.1 1480.8,2342.2 1483.7,2345.1 1486.6,2348.0 1489.4,2350.7 1492.3,2353.3 1495.2,2355.9 1498.0,2358.3 1500.9,2360.6 1503.8,2362.9 1506.6,2365.0 1509.5,2367.0 1512.3,2369.0 1515.2,2370.9 1518.1,2372.7 1520.9,2374.4 1523.8,2376.1 1526.7,2377.7 1529.5,2379.2 1532.4,2380.7 1535.3,2382.1 1538.1,2383.4 1541.0,2384.7 1543.8,2385.9 1546.7,2387.1 1549.6,2388.2 1552.4,2389.3 1555.3,2390.3 1558.2,2391.3 1561.0,2392.3 1563.9,2393.2 1566.8,2394.0 1569.6,2394.9 1572.5,2395.7 1575.3,2396.4 1578.2,2397.1 1581.1,2397.8 1583.9,2398.5 1586.8,2399.1 1589.7,2399.7 1592.5,2400.3 1595.4,2400.8 1598.3,2401.4 1601.1,2401.9 1604.0,2402.4 1606.8,2402.8 1609.7,2403.3 1612.6,2403.7 1615.4,2404.1 1618.3,2404.5 1621.2,2404.8 1624.0,2405.2 1626.9,2405.5 1629.8,2405.8 1632.6,2406.2 1635.5,2406.4 1638.3,2406.7 1641.2,2407.0 1644.1,2407.2 1646.9,2407.5 1649.8,2407.7 1652.7,2407.9 1655.5,2408.2 1658.4,2408.4 1661.3,2408.6 1664.1,2408.7 1667.0,2408.9 1669.8,2409.1 1672.7,2409.3 1675.6,2409.4 1678.4,2409.6 1681.3,2409.7" fill="none" stroke="#7a7a7a" stroke-width="2.9" stroke-linejoin="round" clip-path="url(#cb)"/>
<polyline points="249.5,2412.7 252.4,2412.7 255.2,2412.7 258.1,2412.7 261.0,2412.7 263.8,2412.7 266.7,2412.7 269.5,2412.7 272.4,2412.7 275.3,2412.7 278.1,2412.7 281.0,2412.7 283.9,2412.7 286.7,2412.7 289.6,2412.7 292.5,2412.7 295.3,2412.7 298.2,2412.7 301.0,2412.7 303.9,2412.7 306.8,2412.7 309.6,2412.7 312.5,2412.7 315.4,2412.7 318.2,2412.7 321.1,2412.7 324.0,2412.7 326.8,2412.7 329.7,2412.7 332.5,2412.7 335.4,2412.7 338.3,2412.7 341.1,2412.7 344.0,2412.7 346.9,2412.7 349.7,2412.7 352.6,2412.7 355.5,2412.7 358.3,2412.7 361.2,2412.7 364.0,2412.7 366.9,2412.7 369.8,2412.7 372.6,2412.7 375.5,2412.7 378.4,2412.7 381.2,2412.7 384.1,2412.7 387.0,2412.7 389.8,2412.7 392.7,2412.7 395.5,2412.7 398.4,2412.7 401.3,2412.7 404.1,2412.7 407.0,2412.7 409.9,2412.7 412.7,2412.7 415.6,2412.7 418.5,2412.7 421.3,2412.7 424.2,2412.7 427.0,2412.7 429.9,2412.7 432.8,2412.7 435.6,2412.7 438.5,2412.7 441.4,2412.7 444.2,2412.7 447.1,2412.7 450.0,2412.7 452.8,2412.7 455.7,2412.7 458.5,2412.7 461.4,2412.7 464.3,2412.7 467.1,2412.7 470.0,2412.7 472.9,2412.7 475.7,2412.7 478.6,2412.7 481.5,2412.7 484.3,2412.7 487.2,2412.7 490.0,2412.7 492.9,2412.7 495.8,2412.7 498.6,2412.7 501.5,2412.7 504.4,2412.7 507.2,2412.7 510.1,2412.7 513.0,2412.7 515.8,2412.7 518.7,2412.7 521.5,2412.7 524.4,2412.7 527.3,2412.7 530.1,2412.7 533.0,2412.7 535.9,2412.7 538.7,2412.7 541.6,2412.7 544.5,2412.7 547.3,2412.7 550.2,2412.7 553.0,2412.7 555.9,2412.7 558.8,2412.7 561.6,2412.7 564.5,2412.7 567.4,2412.7 570.2,2412.7 573.1,2412.7 576.0,2412.7 578.8,2412.7 581.7,2412.7 584.5,2412.7 587.4,2412.7 590.3,2412.7 593.1,2412.7 596.0,2412.7 598.9,2412.7 601.7,2412.7 604.6,2412.7 607.4,2412.7 610.3,2412.7 613.2,2412.7 616.0,2412.7 618.9,2412.7 621.8,2412.7 624.6,2412.7 627.5,2412.7 630.4,2412.7 633.2,2412.7 636.1,2412.7 638.9,2412.7 641.8,2412.7 644.7,2412.7 647.5,2412.7 650.4,2412.7 653.3,2412.7 656.1,2412.7 659.0,2412.7 661.9,2412.7 664.7,2412.7 667.6,2412.7 670.4,2412.7 673.3,2412.7 676.2,2412.7 679.0,2412.7 681.9,2412.7 684.8,2412.7 687.6,2412.7 690.5,2412.7 693.4,2412.7 696.2,2412.7 699.1,2412.7 701.9,2412.7 704.8,2412.7 707.7,2412.7 710.5,2412.7 713.4,2412.7 716.3,2412.7 719.1,2412.7 722.0,2412.7 724.9,2412.7 727.7,2412.7 730.6,2412.7 733.4,2412.7 736.3,2412.7 739.2,2412.7 742.0,2412.7 744.9,2412.7 747.8,2412.7 750.6,2412.7 753.5,2412.7 756.4,2412.7 759.2,2412.7 762.1,2412.7 764.9,2412.7 767.8,2412.7 770.7,2412.7 773.5,2412.7 776.4,2412.7 779.3,2412.7 782.1,2412.7 785.0,2412.7 787.9,2412.7 790.7,2412.7 793.6,2412.7 796.4,2412.7 799.3,2412.7 802.2,2412.7 805.0,2412.7 807.9,2412.7 810.8,2412.7 813.6,2412.7 816.5,2412.7 819.4,2412.7 822.2,2412.7 825.1,2412.7 827.9,2412.7 830.8,2412.7 833.7,2412.7 836.5,2412.7 839.4,2412.7 842.3,2412.7 845.1,2412.7 848.0,2412.7 850.9,2412.7 853.7,2412.7 856.6,2412.7 859.4,2412.7 862.3,2412.7 865.2,2412.7 868.0,2412.7 870.9,2412.7 873.8,2412.7 876.6,2412.7 879.5,2412.7 882.4,2412.7 885.2,2412.7 888.1,2412.7 890.9,2412.7 893.8,2412.7 896.7,2412.7 899.5,2412.7 902.4,2412.7 905.3,2412.7 908.1,2412.7 911.0,2412.7 913.9,2412.7 916.7,2412.7 919.6,2412.7 922.4,2412.7 925.3,2412.7 928.2,2412.7 931.0,2412.7 933.9,2412.7 936.8,2412.7 939.6,2412.7 942.5,2412.7 945.4,2412.7 948.2,2412.7 951.1,2412.7 953.9,2412.7 956.8,2412.7 959.7,2412.7 962.5,2412.7 965.4,2412.7 968.3,2412.6 971.1,2412.6 974.0,2412.6 976.9,2412.6 979.7,2412.6 982.6,2412.6 985.4,2412.6 988.3,2412.6 991.2,2412.6 994.0,2412.5 996.9,2412.5 999.8,2412.5 1002.6,2412.5 1005.5,2412.4 1008.4,2412.4 1011.2,2412.4 1014.1,2412.3 1016.9,2412.3 1019.8,2412.2 1022.7,2412.2 1025.5,2412.1 1028.4,2412.0 1031.3,2412.0 1034.1,2411.9 1037.0,2411.8 1039.9,2411.7 1042.7,2411.6 1045.6,2411.5 1048.4,2411.3 1051.3,2411.2 1054.2,2411.0 1057.0,2410.8 1059.9,2410.6 1062.8,2410.4 1065.6,2410.2 1068.5,2409.9 1071.4,2409.6 1074.2,2409.3 1077.1,2409.0 1079.9,2408.6 1082.8,2408.2 1085.7,2407.8 1088.5,2407.3 1091.4,2406.8 1094.3,2406.2 1097.1,2405.6 1100.0,2405.0 1102.9,2404.2 1105.7,2403.5 1108.6,2402.7 1111.4,2401.8 1114.3,2400.8 1117.2,2399.8 1120.0,2398.7 1122.9,2397.5 1125.8,2396.3 1128.6,2394.9 1131.5,2393.5 1134.4,2391.9 1137.2,2390.3 1140.1,2388.5 1142.9,2386.6 1145.8,2384.6 1148.7,2382.5 1151.5,2380.3 1154.4,2377.9 1157.3,2375.3 1160.1,2372.7 1163.0,2369.8 1165.9,2366.8 1168.7,2363.7 1171.6,2360.3 1174.4,2356.8 1177.3,2353.1 1180.2,2349.2 1183.0,2345.2 1185.9,2340.9 1188.8,2336.4 1191.6,2331.7 1194.5,2326.8 1197.4,2321.6 1200.2,2316.3 1203.1,2310.7 1205.9,2304.9 1208.8,2298.8 1211.7,2292.5 1214.5,2285.9 1217.4,2279.1 1220.3,2272.1 1223.1,2264.8 1226.0,2257.2 1228.9,2249.4 1231.7,2241.3 1234.6,2233.0 1237.4,2224.4 1240.3,2215.6 1243.2,2206.5 1246.0,2197.1 1248.9,2187.5 1251.8,2177.7 1254.6,2167.6 1257.5,2157.3 1260.4,2146.8 1263.2,2136.0 1266.1,2125.0 1268.9,2113.9 1271.8,2102.5 1274.7,2090.9 1277.5,2079.2 1280.4,2067.2 1283.3,2055.2 1286.1,2042.9 1289.0,2030.6 1291.9,2018.1 1294.7,2005.5 1297.6,1992.8 1300.4,1980.0 1303.3,1967.2 1306.2,1954.3 1309.0,1941.3 1311.9,1928.4 1314.8,1915.4 1317.6,1902.4 1320.5,1889.4 1323.3,1876.5 1326.2,1863.6 1329.1,1850.8 1331.9,1838.0 1334.8,1825.4 1337.7,1812.8 1340.5,1800.4 1343.4,1788.0 1346.3,1775.8 1349.1,1763.8 1352.0,1751.9 1354.8,1740.1 1357.7,1728.6 1360.6,1717.2 1363.4,1706.0 1366.3,1695.0 1369.2,1684.2 1372.0,1673.6 1374.9,1663.3 1377.8,1653.1 1380.6,1643.2 1383.5,1633.5 1386.3,1624.0 1389.2,1614.8 1392.1,1605.8 1394.9,1597.0 1397.8,1588.4 1400.7,1580.1 1403.5,1572.0 1406.4,1564.2 1409.3,1556.5 1412.1,1549.1 1415.0,1542.0 1417.8,1535.0 1420.7,1528.3 1423.6,1521.7 1426.4,1515.4 1429.3,1509.3 1432.2,1503.4 1435.0,1497.7 1437.9,1492.2 1440.8,1486.8 1443.6,1481.7 1446.5,1476.7 1449.3,1472.0 1452.2,1467.4 1455.1,1462.9 1457.9,1458.7 1460.8,1454.5 1463.7,1450.6 1466.5,1446.8 1469.4,1443.1 1472.3,1439.6 1475.1,1436.2 1478.0,1433.0 1480.8,1429.8 1483.7,1426.8 1486.6,1423.9 1489.4,1421.2 1492.3,1418.5 1495.2,1416.0 1498.0,1413.5 1500.9,1411.2 1503.8,1408.9 1506.6,1406.8 1509.5,1404.7 1512.3,1402.7 1515.2,1400.8 1518.1,1399.0 1520.9,1397.3 1523.8,1395.6 1526.7,1394.0 1529.5,1392.5 1532.4,1391.0 1535.3,1389.6 1538.1,1388.2 1541.0,1386.9 1543.8,1385.7 1546.7,1384.5 1549.6,1383.4 1552.4,1382.3 1555.3,1381.3 1558.2,1380.3 1561.0,1379.4 1563.9,1378.5 1566.8,1377.6 1569.6,1376.8 1572.5,1376.0 1575.3,1375.2 1578.2,1374.5 1581.1,1373.8 1583.9,1373.1 1586.8,1372.5 1589.7,1371.9 1592.5,1371.3 1595.4,1370.8 1598.3,1370.2 1601.1,1369.7 1604.0,1369.2 1606.8,1368.8 1609.7,1368.3 1612.6,1367.9 1615.4,1367.5 1618.3,1367.1 1621.2,1366.8 1624.0,1366.4 1626.9,1366.1 1629.8,1365.8 1632.6,1365.5 1635.5,1365.2 1638.3,1364.9 1641.2,1364.6 1644.1,1364.4 1646.9,1364.1 1649.8,1363.9 1652.7,1363.7 1655.5,1363.4 1658.4,1363.2 1661.3,1363.0 1664.1,1362.9 1667.0,1362.7 1669.8,1362.5 1672.7,1362.3 1675.6,1362.2 1678.4,1362.0 1681.3,1361.9" fill="none" stroke="#7a7a7a" stroke-width="2.9" stroke-linejoin="round" clip-path="url(#cb)"/>
<g stroke="#2e2e2e" stroke-width="5.2" stroke-linecap="butt"><path d="M248.7 1358.9 H1680.3 V2412.7 H248.7 Z" fill="none" stroke="#2e2e2e" stroke-width="5.2" stroke-linejoin="round"/><line x1="226.2" y1="2412.70" x2="248.7" y2="2412.70"/><line x1="236.2" y1="2307.32" x2="248.7" y2="2307.32"/><line x1="226.2" y1="2201.94" x2="248.7" y2="2201.94"/><line x1="236.2" y1="2096.56" x2="248.7" y2="2096.56"/><line x1="226.2" y1="1991.18" x2="248.7" y2="1991.18"/><line x1="236.2" y1="1885.80" x2="248.7" y2="1885.80"/><line x1="226.2" y1="1780.42" x2="248.7" y2="1780.42"/><line x1="236.2" y1="1675.04" x2="248.7" y2="1675.04"/><line x1="226.2" y1="1569.66" x2="248.7" y2="1569.66"/><line x1="236.2" y1="1464.28" x2="248.7" y2="1464.28"/><line x1="226.2" y1="1358.90" x2="248.7" y2="1358.90"/><line x1="248.70" y1="2412.7" x2="248.70" y2="2434.7"/><line x1="391.88" y1="2412.7" x2="391.88" y2="2424.2"/><line x1="535.06" y1="2412.7" x2="535.06" y2="2434.7"/><line x1="678.24" y1="2412.7" x2="678.24" y2="2424.2"/><line x1="821.42" y1="2412.7" x2="821.42" y2="2434.7"/><line x1="964.60" y1="2412.7" x2="964.60" y2="2424.2"/><line x1="1107.78" y1="2412.7" x2="1107.78" y2="2434.7"/><line x1="1250.96" y1="2412.7" x2="1250.96" y2="2424.2"/><line x1="1394.14" y1="2412.7" x2="1394.14" y2="2434.7"/><line x1="1537.32" y1="2412.7" x2="1537.32" y2="2424.2"/><line x1="1680.50" y1="2412.7" x2="1680.50" y2="2434.7"/><line x1="1680.3" y1="2412.70" x2="1702.8" y2="2412.70"/><line x1="1680.3" y1="2297.00" x2="1692.8" y2="2297.00"/><line x1="1680.3" y1="2181.30" x2="1702.8" y2="2181.30"/><line x1="1680.3" y1="2065.60" x2="1692.8" y2="2065.60"/><line x1="1680.3" y1="1949.90" x2="1702.8" y2="1949.90"/><line x1="1680.3" y1="1834.20" x2="1692.8" y2="1834.20"/><line x1="1680.3" y1="1718.50" x2="1702.8" y2="1718.50"/><line x1="1680.3" y1="1602.80" x2="1692.8" y2="1602.80"/><line x1="1680.3" y1="1487.10" x2="1702.8" y2="1487.10"/><line x1="1680.3" y1="1371.40" x2="1692.8" y2="1371.40"/></g><g font-size="43.5" fill="#111"><text x="213.3" y="2423.5" text-anchor="end">0</text><text x="213.3" y="2212.7" text-anchor="end">20</text><text x="213.3" y="2002.0" text-anchor="end">40</text><text x="213.3" y="1791.2" text-anchor="end">60</text><text x="213.3" y="1580.5" text-anchor="end">80</text><text x="213.3" y="1369.7" text-anchor="end">100</text><text x="248.70" y="2481.7" text-anchor="middle">2</text><text x="535.06" y="2481.7" text-anchor="middle">4</text><text x="821.42" y="2481.7" text-anchor="middle">6</text><text x="1107.78" y="2481.7" text-anchor="middle">8</text><text x="1394.14" y="2481.7" text-anchor="middle">10</text><text x="1680.50" y="2481.7" text-anchor="middle">12</text><text x="1715.6" y="2424.1">0.0</text><text x="1715.6" y="2192.7">0.2</text><text x="1715.6" y="1961.3">0.4</text><text x="1715.6" y="1729.9">0.6</text><text x="1715.6" y="1498.5">0.8</text></g><g fill="#fff"><rect x="143.33" y="1365.18" width="8.31" height="5.72"/><rect x="155.47" y="1365.18" width="7.87" height="5.72"/><rect x="1372.56" y="2477.18" width="8.31" height="5.72"/><rect x="1384.69" y="2477.18" width="7.87" height="5.72"/><rect x="1658.92" y="2477.18" width="8.31" height="5.72"/><rect x="1671.05" y="2477.18" width="7.87" height="5.72"/></g>
<g fill="#000" clip-path="url(#cb)"><rect x="236.8" y="2383.9" width="23.5" height="23.5"/><rect x="294.2" y="2383.9" width="23.5" height="23.5"/><rect x="350.9" y="2378.4" width="23.5" height="23.5"/><rect x="435.8" y="2373.9" width="23.5" height="23.5"/><rect x="492.9" y="2372.6" width="23.5" height="23.5"/><rect x="578.2" y="2362.6" width="23.5" height="23.5"/><rect x="649.1" y="2341.8" width="23.5" height="23.5"/><rect x="748.5" y="2284.2" width="23.5" height="23.5"/><rect x="806.5" y="2240.9" width="23.5" height="23.5"/><rect x="848.8" y="2216.2" width="23.5" height="23.5"/><rect x="877.5" y="2178.9" width="23.5" height="23.5"/><rect x="934.0" y="2129.2" width="23.5" height="23.5"/><rect x="949.0" y="2105.4" width="23.5" height="23.5"/><rect x="1005.9" y="2019.8" width="23.5" height="23.5"/><rect x="1033.8" y="1972.3" width="23.5" height="23.5"/><rect x="1076.5" y="1892.5" width="23.5" height="23.5"/><rect x="1105.2" y="1825.8" width="23.5" height="23.5"/><rect x="1134.0" y="1759.8" width="23.5" height="23.5"/><rect x="1176.5" y="1659.2" width="23.5" height="23.5"/><rect x="1233.0" y="1559.7" width="23.5" height="23.5"/><rect x="1262.5" y="1528.3" width="23.5" height="23.5"/><rect x="1347.5" y="1445.0" width="23.5" height="23.5"/><rect x="1404.7" y="1397.5" width="23.5" height="23.5"/><rect x="1447.2" y="1380.5" width="23.5" height="23.5"/><rect x="1489.7" y="1367.5" width="23.5" height="23.5"/><rect x="1518.2" y="1361.0" width="23.5" height="23.5"/><rect x="1575.3" y="1361.0" width="23.5" height="23.5"/><rect x="1617.8" y="1364.2" width="23.5" height="23.5"/><rect x="1662.7" y="1369.8" width="23.5" height="23.5"/></g>
<g fill="#111" font-size="53">
<text x="963.9" y="1240.4" text-anchor="middle">pH</text>
<text x="963.8" y="2550.2" text-anchor="middle">pH</text>
<text transform="translate(80.3 542.8) rotate(-90)" text-anchor="middle">% formation relative to L</text>
<text transform="translate(80.5 1867.3) rotate(-90)" text-anchor="middle">% formation relative to L</text>
<text transform="translate(1838 690.5) rotate(-90)" font-size="52">ABS<tspan font-size="32" dy="21.3">321nm</tspan></text>
<text transform="translate(1839 2015.9) rotate(-90)" font-size="52">ABS<tspan font-size="32" dy="21.3">321nm</tspan></text>
</g>
<text transform="translate(10.9 65.4) scale(0.91 1)" font-size="79" font-weight="bold" fill="#000">a</text>
<text transform="translate(8.3 1392.6) scale(1.085 1)" font-size="75" font-weight="bold" fill="#000">b</text>
<g fill="#000">
<text x="495.3" y="167.2" font-size="74"><tspan dy="0.0" font-size="74">H</tspan><tspan dy="0.0" font-size="74" font-weight="bold">L</tspan><tspan dx="-3.5" dy="-20.9" font-size="48.5">+</tspan></text>
<text x="915.2" y="182.3" font-size="74"><tspan dy="0.0" font-size="74" font-weight="bold">L</tspan></text>
<text x="1425.7" y="182.2" font-size="74"><tspan dy="0.0" font-size="74">H</tspan><tspan dx="-1.5" dy="15.7" font-size="48.5">-2</tspan><tspan dy="-15.7" font-size="74" font-weight="bold">L</tspan><tspan dx="-3.5" dy="-20.9" font-size="48.5">2-</tspan></text>
<text x="1243.1" y="580.7" font-size="74"><tspan dy="0.0" font-size="74">H</tspan><tspan dx="-1.5" dy="15.7" font-size="48.5">-1</tspan><tspan dy="-15.7" font-size="74" font-weight="bold">L</tspan><tspan dx="-3.5" dy="-20.9" font-size="48.5">-</tspan></text><g fill="#fff"><rect x="1314.08" y="591.51" width="9.26" height="6.09"/><rect x="1327.61" y="591.51" width="8.78" height="6.09"/></g>
<text x="367.7" y="752.6" font-size="74"><tspan dy="0.0" font-size="74">H</tspan><tspan dx="-1.5" dy="15.7" font-size="48.5">2</tspan><tspan dy="-15.7" font-size="74" font-weight="bold">L</tspan><tspan dx="-3.5" dy="-20.9" font-size="48.5">2+</tspan></text>
<text x="445.5" y="1477.3" font-size="74"><tspan dy="0.0" font-size="74">H</tspan><tspan dy="0.0" font-size="74" font-weight="bold">L</tspan><tspan dx="-3.5" dy="-20.9" font-size="48.5">+</tspan></text>
<text x="877.8" y="1573.2" font-size="74"><tspan dy="0.0" font-size="74" font-weight="bold">L</tspan></text>
<text x="981.9" y="1723.2" font-size="74"><tspan dy="0.0" font-size="74">H</tspan><tspan dx="-1.5" dy="15.7" font-size="48.5">-1</tspan><tspan dy="-15.7" font-size="74" font-weight="bold">L</tspan><tspan dx="-3.5" dy="-20.9" font-size="48.5">-</tspan></text><g fill="#fff"><rect x="1052.88" y="1734.01" width="9.26" height="6.09"/><rect x="1066.41" y="1734.01" width="8.78" height="6.09"/></g>
<text x="1336.9" y="1908.1" font-size="74"><tspan dy="0.0" font-size="74">H</tspan><tspan dx="-1.5" dy="15.7" font-size="48.5">-2</tspan><tspan dy="-15.7" font-size="74" font-weight="bold">L</tspan><tspan dx="-3.5" dy="-20.9" font-size="48.5">2-</tspan></text>
<text x="1474.9" y="1516.5" font-size="74"><tspan dy="0.0" font-size="74">H</tspan><tspan dx="-1.5" dy="15.7" font-size="48.5">-3</tspan><tspan dy="-15.7" font-size="74" font-weight="bold">L</tspan><tspan dx="-3.5" dy="-20.9" font-size="48.5">3-</tspan></text>
<text x="292.7" y="2074.0" font-size="74"><tspan dy="0.0" font-size="74">H</tspan><tspan dx="-1.5" dy="15.7" font-size="48.5">2</tspan><tspan dy="-15.7" font-size="74" font-weight="bold">L</tspan><tspan dx="-3.5" dy="-20.9" font-size="48.5">2+</tspan></text>
</g>
</g>
</svg>
</body></html>
